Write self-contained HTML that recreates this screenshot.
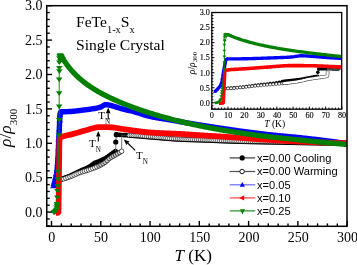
<!DOCTYPE html><html><head><meta charset="utf-8"><style>
*{margin:0;padding:0}
html,body{width:357px;height:265px;overflow:hidden;background:#fff}
svg{display:block;will-change:transform}
text{font-family:"Liberation Serif",serif;fill:#000}
.tk{font-size:14px}
.itk{font-size:8.2px;fill:#000;stroke:#000;stroke-width:0.12px}
.ttl{font-size:15.6px}
.sub{font-size:10.4px}
.axl{font-size:17px}
.axs{font-size:11px}
.iaxl{font-size:9.6px}
.iaxs{font-size:7px}
.tn{font-size:11px}
.tns{font-size:7.2px}
.lg{font-family:"Liberation Sans",sans-serif;font-size:11.1px}
</style></head><body><svg width="357" height="265" viewBox="0 0 357 265">
<defs><clipPath id="cm"><rect x="46.75" y="5.7" width="300.25" height="220.6"/></clipPath><clipPath id="ci"><rect x="211.8" y="12.5" width="129.9" height="96.7"/></clipPath></defs>
<rect width="357" height="265" fill="#fff"/>
<g clip-path="url(#cm)"><polyline points="59.58,179.08 61.65,178.79 63.72,178.31 65.79,177.64 67.86,176.85 69.93,176.02 72.00,175.12 74.07,174.11 76.14,173.04 78.21,171.99 80.28,171.04 82.35,170.20 84.42,169.36 86.49,168.42 88.55,167.38 90.62,166.18 92.69,164.64 94.76,163.22 96.83,162.28 98.90,161.50 100.97,160.61 103.04,159.67 105.11,158.63 107.18,157.37 109.25,155.90 111.32,154.43 113.39,152.92 115.46,151.36" fill="none" stroke="#000" stroke-width="0.8"/>
<circle cx="59.58" cy="179.08" r="2.60" fill="#000"/>
<circle cx="61.65" cy="178.79" r="2.60" fill="#000"/>
<circle cx="63.72" cy="178.31" r="2.60" fill="#000"/>
<circle cx="65.79" cy="177.64" r="2.60" fill="#000"/>
<circle cx="67.86" cy="176.85" r="2.60" fill="#000"/>
<circle cx="69.93" cy="176.02" r="2.60" fill="#000"/>
<circle cx="72.00" cy="175.12" r="2.60" fill="#000"/>
<circle cx="74.07" cy="174.11" r="2.60" fill="#000"/>
<circle cx="76.14" cy="173.04" r="2.60" fill="#000"/>
<circle cx="78.21" cy="171.99" r="2.60" fill="#000"/>
<circle cx="80.28" cy="171.04" r="2.60" fill="#000"/>
<circle cx="82.35" cy="170.20" r="2.60" fill="#000"/>
<circle cx="84.42" cy="169.36" r="2.60" fill="#000"/>
<circle cx="86.49" cy="168.42" r="2.60" fill="#000"/>
<circle cx="88.55" cy="167.38" r="2.60" fill="#000"/>
<circle cx="90.62" cy="166.18" r="2.60" fill="#000"/>
<circle cx="92.69" cy="164.64" r="2.60" fill="#000"/>
<circle cx="94.76" cy="163.22" r="2.60" fill="#000"/>
<circle cx="96.83" cy="162.28" r="2.60" fill="#000"/>
<circle cx="98.90" cy="161.50" r="2.60" fill="#000"/>
<circle cx="100.97" cy="160.61" r="2.60" fill="#000"/>
<circle cx="103.04" cy="159.67" r="2.60" fill="#000"/>
<circle cx="105.11" cy="158.63" r="2.60" fill="#000"/>
<circle cx="107.18" cy="157.37" r="2.60" fill="#000"/>
<circle cx="109.25" cy="155.90" r="2.60" fill="#000"/>
<circle cx="111.32" cy="154.43" r="2.60" fill="#000"/>
<circle cx="113.39" cy="152.92" r="2.60" fill="#000"/>
<circle cx="115.46" cy="151.36" r="2.60" fill="#000"/>
<polyline points="115.66,151.21 115.75,141.99 116.30,134.63" fill="none" stroke="#666" stroke-width="0.9"/>
<circle cx="115.75" cy="141.99" r="2.60" fill="#000"/>
<circle cx="116.30" cy="134.63" r="2.60" fill="#000"/>
<polyline points="116.30,134.63 118.22,134.76 120.14,134.88 122.06,135.01 123.98,135.14 125.91,135.21 127.83,135.25 128.37,135.25" fill="none" stroke="#000" stroke-width="0.8"/>
<circle cx="116.30" cy="134.63" r="2.34" fill="#000"/>
<circle cx="118.22" cy="134.76" r="2.34" fill="#000"/>
<circle cx="120.14" cy="134.88" r="2.34" fill="#000"/>
<circle cx="122.06" cy="135.01" r="2.34" fill="#000"/>
<circle cx="123.98" cy="135.14" r="2.34" fill="#000"/>
<circle cx="125.91" cy="135.21" r="2.34" fill="#000"/>
<circle cx="127.83" cy="135.25" r="2.34" fill="#000"/>
<circle cx="128.37" cy="135.25" r="2.34" fill="#000"/>
<polyline points="59.58,179.35 61.65,179.24 63.72,178.91 65.79,178.28 67.86,177.50 69.93,176.70 72.00,175.91 74.07,175.02 76.14,174.11 78.21,173.22 80.28,172.44 82.35,171.75 84.42,171.13 86.49,170.51 88.55,169.87 90.62,169.17 92.69,168.43 94.76,167.65 96.83,166.82 98.90,165.90 100.97,164.88 103.04,163.68 105.11,162.30 107.18,160.60 109.25,158.65 111.32,157.18 113.39,156.00 115.46,154.91 117.53,153.74 119.60,152.52 121.67,151.28 121.67,135.18 123.59,135.19 125.51,135.21 127.43,135.24 129.35,135.27 131.28,135.34 133.20,135.44 135.12,135.56 137.04,135.70 138.96,135.86 140.88,136.03 142.81,136.21 144.73,136.39 146.65,136.56 148.57,136.72 150.49,136.87 152.42,137.03 154.34,137.18 156.26,137.35 158.18,137.51 160.10,137.68 162.02,137.85 163.95,138.02 165.87,138.19 167.79,138.35 169.71,138.50 171.63,138.65 173.55,138.79 175.48,138.92 177.40,139.04 179.32,139.14 181.24,139.23 183.16,139.31 185.08,139.38 187.01,139.45 188.93,139.51 190.85,139.57 192.77,139.63 194.69,139.69 196.61,139.75 198.54,139.81 200.46,139.88 202.38,139.94 204.30,140.02 206.22,140.09 208.15,140.16 210.07,140.24 211.99,140.31 213.91,140.39 215.83,140.46 217.75,140.54 219.68,140.61 221.60,140.69 223.52,140.76 225.44,140.83 227.36,140.90 229.28,140.97 231.21,141.04 233.13,141.10 235.05,141.16 236.97,141.22 238.89,141.27 240.81,141.33 242.74,141.37 244.66,141.42 246.58,141.46 248.50,141.50 250.42,141.54 252.34,141.58 254.27,141.62 256.19,141.66 258.11,141.70 260.03,141.73 261.95,141.77 263.88,141.80 265.80,141.84 267.72,141.88 269.64,141.92 271.56,141.96 273.48,141.99 275.41,142.03 277.33,142.07 279.25,142.11 281.17,142.15 283.09,142.19 285.01,142.23 286.94,142.27 288.86,142.31 290.78,142.34 292.70,142.38 294.62,142.42 296.54,142.46 298.47,142.49 300.39,142.53 302.31,142.56 304.23,142.60 306.15,142.63 308.07,142.67 310.00,142.70 311.92,142.73 313.84,142.77 315.76,142.80 317.68,142.83 319.61,142.87 321.53,142.90 323.45,142.93 325.37,142.96 327.29,142.99 329.21,143.03 331.14,143.06 333.06,143.09 334.98,143.12 336.90,143.15 338.82,143.18 340.74,143.21 342.67,143.23 344.59,143.26 346.51,143.29 347.15,143.30" fill="none" stroke="#555" stroke-width="0.8"/>
<circle cx="59.58" cy="179.35" r="2.27" fill="#fff" stroke="#000" stroke-width="0.65"/>
<circle cx="61.65" cy="179.24" r="2.27" fill="#fff" stroke="#000" stroke-width="0.65"/>
<circle cx="63.72" cy="178.91" r="2.27" fill="#fff" stroke="#000" stroke-width="0.65"/>
<circle cx="65.79" cy="178.28" r="2.27" fill="#fff" stroke="#000" stroke-width="0.65"/>
<circle cx="67.86" cy="177.50" r="2.27" fill="#fff" stroke="#000" stroke-width="0.65"/>
<circle cx="69.93" cy="176.70" r="2.27" fill="#fff" stroke="#000" stroke-width="0.65"/>
<circle cx="72.00" cy="175.91" r="2.27" fill="#fff" stroke="#000" stroke-width="0.65"/>
<circle cx="74.07" cy="175.02" r="2.27" fill="#fff" stroke="#000" stroke-width="0.65"/>
<circle cx="76.14" cy="174.11" r="2.27" fill="#fff" stroke="#000" stroke-width="0.65"/>
<circle cx="78.21" cy="173.22" r="2.27" fill="#fff" stroke="#000" stroke-width="0.65"/>
<circle cx="80.28" cy="172.44" r="2.27" fill="#fff" stroke="#000" stroke-width="0.65"/>
<circle cx="82.35" cy="171.75" r="2.27" fill="#fff" stroke="#000" stroke-width="0.65"/>
<circle cx="84.42" cy="171.13" r="2.27" fill="#fff" stroke="#000" stroke-width="0.65"/>
<circle cx="86.49" cy="170.51" r="2.27" fill="#fff" stroke="#000" stroke-width="0.65"/>
<circle cx="88.55" cy="169.87" r="2.27" fill="#fff" stroke="#000" stroke-width="0.65"/>
<circle cx="90.62" cy="169.17" r="2.27" fill="#fff" stroke="#000" stroke-width="0.65"/>
<circle cx="92.69" cy="168.43" r="2.27" fill="#fff" stroke="#000" stroke-width="0.65"/>
<circle cx="94.76" cy="167.65" r="2.27" fill="#fff" stroke="#000" stroke-width="0.65"/>
<circle cx="96.83" cy="166.82" r="2.27" fill="#fff" stroke="#000" stroke-width="0.65"/>
<circle cx="98.90" cy="165.90" r="2.27" fill="#ccc" stroke="#000" stroke-width="0.65"/>
<circle cx="100.97" cy="164.88" r="2.27" fill="#ccc" stroke="#000" stroke-width="0.65"/>
<circle cx="103.04" cy="163.68" r="2.27" fill="#ccc" stroke="#000" stroke-width="0.65"/>
<circle cx="105.11" cy="162.30" r="2.27" fill="#ccc" stroke="#000" stroke-width="0.65"/>
<circle cx="107.18" cy="160.60" r="2.27" fill="#ccc" stroke="#000" stroke-width="0.65"/>
<circle cx="109.25" cy="158.65" r="2.27" fill="#ccc" stroke="#000" stroke-width="0.65"/>
<circle cx="111.32" cy="157.18" r="2.27" fill="#ccc" stroke="#000" stroke-width="0.65"/>
<circle cx="113.39" cy="156.00" r="2.27" fill="#ccc" stroke="#000" stroke-width="0.65"/>
<circle cx="115.46" cy="154.91" r="2.27" fill="#ccc" stroke="#000" stroke-width="0.65"/>
<circle cx="117.53" cy="153.74" r="2.27" fill="#ccc" stroke="#000" stroke-width="0.65"/>
<circle cx="119.60" cy="152.52" r="2.27" fill="#ccc" stroke="#000" stroke-width="0.65"/>
<circle cx="121.67" cy="151.28" r="2.27" fill="#fff" stroke="#000" stroke-width="0.65"/>
<circle cx="129.35" cy="135.27" r="2.27" fill="#fff" stroke="#000" stroke-width="0.65"/>
<circle cx="131.28" cy="135.34" r="2.27" fill="#fff" stroke="#000" stroke-width="0.65"/>
<circle cx="133.20" cy="135.44" r="2.27" fill="#fff" stroke="#000" stroke-width="0.65"/>
<circle cx="135.12" cy="135.56" r="2.27" fill="#fff" stroke="#000" stroke-width="0.65"/>
<circle cx="137.04" cy="135.70" r="2.27" fill="#fff" stroke="#000" stroke-width="0.65"/>
<circle cx="138.96" cy="135.86" r="2.27" fill="#fff" stroke="#000" stroke-width="0.65"/>
<circle cx="140.88" cy="136.03" r="2.27" fill="#fff" stroke="#000" stroke-width="0.65"/>
<circle cx="142.81" cy="136.21" r="2.27" fill="#fff" stroke="#000" stroke-width="0.65"/>
<circle cx="144.73" cy="136.39" r="2.27" fill="#fff" stroke="#000" stroke-width="0.65"/>
<circle cx="146.65" cy="136.56" r="2.27" fill="#fff" stroke="#000" stroke-width="0.65"/>
<circle cx="148.57" cy="136.72" r="2.27" fill="#fff" stroke="#000" stroke-width="0.65"/>
<circle cx="150.49" cy="136.87" r="2.27" fill="#fff" stroke="#000" stroke-width="0.65"/>
<circle cx="152.42" cy="137.03" r="2.27" fill="#fff" stroke="#000" stroke-width="0.65"/>
<circle cx="154.34" cy="137.18" r="2.27" fill="#fff" stroke="#000" stroke-width="0.65"/>
<circle cx="156.26" cy="137.35" r="2.27" fill="#fff" stroke="#000" stroke-width="0.65"/>
<circle cx="158.18" cy="137.51" r="2.27" fill="#fff" stroke="#000" stroke-width="0.65"/>
<circle cx="160.10" cy="137.68" r="2.27" fill="#fff" stroke="#000" stroke-width="0.65"/>
<circle cx="162.02" cy="137.85" r="2.27" fill="#fff" stroke="#000" stroke-width="0.65"/>
<circle cx="163.95" cy="138.02" r="2.27" fill="#fff" stroke="#000" stroke-width="0.65"/>
<circle cx="165.87" cy="138.19" r="2.27" fill="#fff" stroke="#000" stroke-width="0.65"/>
<circle cx="167.79" cy="138.35" r="2.27" fill="#fff" stroke="#000" stroke-width="0.65"/>
<circle cx="169.71" cy="138.50" r="2.27" fill="#fff" stroke="#000" stroke-width="0.65"/>
<circle cx="171.63" cy="138.65" r="2.27" fill="#fff" stroke="#000" stroke-width="0.65"/>
<circle cx="173.55" cy="138.79" r="2.27" fill="#fff" stroke="#000" stroke-width="0.65"/>
<circle cx="175.48" cy="138.92" r="2.27" fill="#fff" stroke="#000" stroke-width="0.65"/>
<circle cx="177.40" cy="139.04" r="2.27" fill="#fff" stroke="#000" stroke-width="0.65"/>
<circle cx="179.32" cy="139.14" r="2.27" fill="#fff" stroke="#000" stroke-width="0.65"/>
<circle cx="181.24" cy="139.23" r="2.27" fill="#fff" stroke="#000" stroke-width="0.65"/>
<circle cx="183.16" cy="139.31" r="2.27" fill="#fff" stroke="#000" stroke-width="0.65"/>
<circle cx="185.08" cy="139.38" r="2.27" fill="#fff" stroke="#000" stroke-width="0.65"/>
<circle cx="187.01" cy="139.45" r="2.27" fill="#fff" stroke="#000" stroke-width="0.65"/>
<circle cx="188.93" cy="139.51" r="2.27" fill="#fff" stroke="#000" stroke-width="0.65"/>
<circle cx="190.85" cy="139.57" r="2.27" fill="#fff" stroke="#000" stroke-width="0.65"/>
<circle cx="192.77" cy="139.63" r="2.27" fill="#fff" stroke="#000" stroke-width="0.65"/>
<circle cx="194.69" cy="139.69" r="2.27" fill="#fff" stroke="#000" stroke-width="0.65"/>
<circle cx="196.61" cy="139.75" r="2.27" fill="#fff" stroke="#000" stroke-width="0.65"/>
<circle cx="198.54" cy="139.81" r="2.27" fill="#fff" stroke="#000" stroke-width="0.65"/>
<circle cx="200.46" cy="139.88" r="2.27" fill="#fff" stroke="#000" stroke-width="0.65"/>
<circle cx="202.38" cy="139.94" r="2.27" fill="#fff" stroke="#000" stroke-width="0.65"/>
<circle cx="204.30" cy="140.02" r="2.27" fill="#fff" stroke="#000" stroke-width="0.65"/>
<circle cx="206.22" cy="140.09" r="2.27" fill="#fff" stroke="#000" stroke-width="0.65"/>
<circle cx="208.15" cy="140.16" r="2.27" fill="#fff" stroke="#000" stroke-width="0.65"/>
<circle cx="210.07" cy="140.24" r="2.27" fill="#fff" stroke="#000" stroke-width="0.65"/>
<circle cx="211.99" cy="140.31" r="2.27" fill="#fff" stroke="#000" stroke-width="0.65"/>
<circle cx="213.91" cy="140.39" r="2.27" fill="#fff" stroke="#000" stroke-width="0.65"/>
<circle cx="215.83" cy="140.46" r="2.27" fill="#fff" stroke="#000" stroke-width="0.65"/>
<circle cx="217.75" cy="140.54" r="2.27" fill="#fff" stroke="#000" stroke-width="0.65"/>
<circle cx="219.68" cy="140.61" r="2.27" fill="#fff" stroke="#000" stroke-width="0.65"/>
<circle cx="221.60" cy="140.69" r="2.27" fill="#fff" stroke="#000" stroke-width="0.65"/>
<circle cx="223.52" cy="140.76" r="2.27" fill="#fff" stroke="#000" stroke-width="0.65"/>
<circle cx="225.44" cy="140.83" r="2.27" fill="#fff" stroke="#000" stroke-width="0.65"/>
<circle cx="227.36" cy="140.90" r="2.27" fill="#fff" stroke="#000" stroke-width="0.65"/>
<circle cx="229.28" cy="140.97" r="2.27" fill="#fff" stroke="#000" stroke-width="0.65"/>
<circle cx="231.21" cy="141.04" r="2.27" fill="#fff" stroke="#000" stroke-width="0.65"/>
<circle cx="233.13" cy="141.10" r="2.27" fill="#fff" stroke="#000" stroke-width="0.65"/>
<circle cx="235.05" cy="141.16" r="2.27" fill="#fff" stroke="#000" stroke-width="0.65"/>
<circle cx="236.97" cy="141.22" r="2.27" fill="#fff" stroke="#000" stroke-width="0.65"/>
<circle cx="238.89" cy="141.27" r="2.27" fill="#fff" stroke="#000" stroke-width="0.65"/>
<circle cx="240.81" cy="141.33" r="2.27" fill="#fff" stroke="#000" stroke-width="0.65"/>
<circle cx="242.74" cy="141.37" r="2.27" fill="#fff" stroke="#000" stroke-width="0.65"/>
<circle cx="244.66" cy="141.42" r="2.27" fill="#fff" stroke="#000" stroke-width="0.65"/>
<circle cx="246.58" cy="141.46" r="2.27" fill="#fff" stroke="#000" stroke-width="0.65"/>
<circle cx="248.50" cy="141.50" r="2.27" fill="#fff" stroke="#000" stroke-width="0.65"/>
<circle cx="250.42" cy="141.54" r="2.27" fill="#fff" stroke="#000" stroke-width="0.65"/>
<circle cx="252.34" cy="141.58" r="2.27" fill="#fff" stroke="#000" stroke-width="0.65"/>
<circle cx="254.27" cy="141.62" r="2.27" fill="#fff" stroke="#000" stroke-width="0.65"/>
<circle cx="256.19" cy="141.66" r="2.27" fill="#fff" stroke="#000" stroke-width="0.65"/>
<circle cx="258.11" cy="141.70" r="2.27" fill="#fff" stroke="#000" stroke-width="0.65"/>
<circle cx="260.03" cy="141.73" r="2.27" fill="#fff" stroke="#000" stroke-width="0.65"/>
<circle cx="261.95" cy="141.77" r="2.27" fill="#fff" stroke="#000" stroke-width="0.65"/>
<circle cx="263.88" cy="141.80" r="2.27" fill="#fff" stroke="#000" stroke-width="0.65"/>
<circle cx="265.80" cy="141.84" r="2.27" fill="#fff" stroke="#000" stroke-width="0.65"/>
<circle cx="267.72" cy="141.88" r="2.27" fill="#fff" stroke="#000" stroke-width="0.65"/>
<circle cx="269.64" cy="141.92" r="2.27" fill="#fff" stroke="#000" stroke-width="0.65"/>
<circle cx="271.56" cy="141.96" r="2.27" fill="#fff" stroke="#000" stroke-width="0.65"/>
<circle cx="273.48" cy="141.99" r="2.27" fill="#fff" stroke="#000" stroke-width="0.65"/>
<circle cx="275.41" cy="142.03" r="2.27" fill="#fff" stroke="#000" stroke-width="0.65"/>
<circle cx="277.33" cy="142.07" r="2.27" fill="#fff" stroke="#000" stroke-width="0.65"/>
<circle cx="279.25" cy="142.11" r="2.27" fill="#fff" stroke="#000" stroke-width="0.65"/>
<circle cx="281.17" cy="142.15" r="2.27" fill="#fff" stroke="#000" stroke-width="0.65"/>
<circle cx="283.09" cy="142.19" r="2.27" fill="#fff" stroke="#000" stroke-width="0.65"/>
<circle cx="285.01" cy="142.23" r="2.27" fill="#fff" stroke="#000" stroke-width="0.65"/>
<circle cx="286.94" cy="142.27" r="2.27" fill="#fff" stroke="#000" stroke-width="0.65"/>
<circle cx="288.86" cy="142.31" r="2.27" fill="#fff" stroke="#000" stroke-width="0.65"/>
<circle cx="290.78" cy="142.34" r="2.27" fill="#fff" stroke="#000" stroke-width="0.65"/>
<circle cx="292.70" cy="142.38" r="2.27" fill="#fff" stroke="#000" stroke-width="0.65"/>
<circle cx="294.62" cy="142.42" r="2.27" fill="#fff" stroke="#000" stroke-width="0.65"/>
<circle cx="296.54" cy="142.46" r="2.27" fill="#fff" stroke="#000" stroke-width="0.65"/>
<circle cx="298.47" cy="142.49" r="2.27" fill="#fff" stroke="#000" stroke-width="0.65"/>
<circle cx="300.39" cy="142.53" r="2.27" fill="#fff" stroke="#000" stroke-width="0.65"/>
<circle cx="302.31" cy="142.56" r="2.27" fill="#fff" stroke="#000" stroke-width="0.65"/>
<circle cx="304.23" cy="142.60" r="2.27" fill="#fff" stroke="#000" stroke-width="0.65"/>
<circle cx="306.15" cy="142.63" r="2.27" fill="#fff" stroke="#000" stroke-width="0.65"/>
<circle cx="308.07" cy="142.67" r="2.27" fill="#fff" stroke="#000" stroke-width="0.65"/>
<circle cx="310.00" cy="142.70" r="2.27" fill="#fff" stroke="#000" stroke-width="0.65"/>
<circle cx="311.92" cy="142.73" r="2.27" fill="#fff" stroke="#000" stroke-width="0.65"/>
<circle cx="313.84" cy="142.77" r="2.27" fill="#fff" stroke="#000" stroke-width="0.65"/>
<circle cx="315.76" cy="142.80" r="2.27" fill="#fff" stroke="#000" stroke-width="0.65"/>
<circle cx="317.68" cy="142.83" r="2.27" fill="#fff" stroke="#000" stroke-width="0.65"/>
<circle cx="319.61" cy="142.87" r="2.27" fill="#fff" stroke="#000" stroke-width="0.65"/>
<circle cx="321.53" cy="142.90" r="2.27" fill="#fff" stroke="#000" stroke-width="0.65"/>
<circle cx="323.45" cy="142.93" r="2.27" fill="#fff" stroke="#000" stroke-width="0.65"/>
<circle cx="325.37" cy="142.96" r="2.27" fill="#fff" stroke="#000" stroke-width="0.65"/>
<circle cx="327.29" cy="142.99" r="2.27" fill="#fff" stroke="#000" stroke-width="0.65"/>
<circle cx="329.21" cy="143.03" r="2.27" fill="#fff" stroke="#000" stroke-width="0.65"/>
<circle cx="331.14" cy="143.06" r="2.27" fill="#fff" stroke="#000" stroke-width="0.65"/>
<circle cx="333.06" cy="143.09" r="2.27" fill="#fff" stroke="#000" stroke-width="0.65"/>
<circle cx="334.98" cy="143.12" r="2.27" fill="#fff" stroke="#000" stroke-width="0.65"/>
<circle cx="336.90" cy="143.15" r="2.27" fill="#fff" stroke="#000" stroke-width="0.65"/>
<circle cx="338.82" cy="143.18" r="2.27" fill="#fff" stroke="#000" stroke-width="0.65"/>
<circle cx="340.74" cy="143.21" r="2.27" fill="#fff" stroke="#000" stroke-width="0.65"/>
<circle cx="342.67" cy="143.23" r="2.27" fill="#fff" stroke="#000" stroke-width="0.65"/>
<circle cx="344.59" cy="143.26" r="2.27" fill="#fff" stroke="#000" stroke-width="0.65"/>
<circle cx="346.51" cy="143.29" r="2.27" fill="#fff" stroke="#000" stroke-width="0.65"/>
<circle cx="347.15" cy="143.30" r="2.27" fill="#fff" stroke="#000" stroke-width="0.65"/>
<polyline points="129.35,137.42 131.28,137.49 133.20,137.59 135.12,137.71 137.04,137.85 138.96,138.01 140.88,138.18 142.81,138.36 144.73,138.54 146.65,138.71 148.57,138.87 150.49,139.02 152.42,139.18 154.34,139.33 156.26,139.50 158.18,139.66 160.10,139.83 162.02,140.00 163.95,140.17 165.87,140.34 167.79,140.50 169.71,140.65 171.63,140.80 173.55,140.94 175.48,141.07 177.40,141.19 179.32,141.29 181.24,141.38 183.16,141.46 185.08,141.53 187.01,141.60 188.93,141.66 190.85,141.72 192.77,141.78 194.69,141.84 196.61,141.90 198.54,141.96 200.46,142.03 202.38,142.09 204.30,142.17 206.22,142.24 208.15,142.31 210.07,142.39 211.99,142.46 213.91,142.54 215.83,142.61 217.75,142.69 219.68,142.76 221.60,142.84 223.52,142.91 225.44,142.98 227.36,143.05 229.28,143.12 231.21,143.19 233.13,143.25 235.05,143.31 236.97,143.37 238.89,143.42 240.81,143.48 242.74,143.52 244.66,143.57 246.58,143.61 248.50,143.65 250.42,143.69 252.34,143.73 254.27,143.77 256.19,143.81 258.11,143.85 260.03,143.88 261.95,143.92 263.88,143.95 265.80,143.99 267.72,144.03 269.64,144.07 271.56,144.11 273.48,144.14 275.41,144.18 277.33,144.22 279.25,144.26 281.17,144.30 283.09,144.34 285.01,144.38 286.94,144.42 288.86,144.46 290.78,144.49 292.70,144.53 294.62,144.57 296.54,144.61 298.47,144.64 300.39,144.68 302.31,144.71 304.23,144.75 306.15,144.78 308.07,144.82 310.00,144.85 311.92,144.88 313.84,144.92 315.76,144.95 317.68,144.98 319.61,145.02 321.53,145.05 323.45,145.08 325.37,145.11 327.29,145.14 329.21,145.18 331.14,145.21 333.06,145.24 334.98,145.27 336.90,145.30 338.82,145.33 340.74,145.36 342.67,145.38 344.59,145.41 346.51,145.44 347.15,145.45" fill="none" stroke="#000" stroke-width="1.0"/>
<polyline points="53.37,186.64 53.47,186.30 53.57,185.96 53.67,185.61 53.77,185.27 53.87,184.92 53.96,184.58 54.06,184.24 54.16,183.90 54.26,183.57 54.36,183.23 54.46,182.90 54.56,182.55 54.65,182.19 54.75,181.83 54.85,181.45 54.95,181.06 55.05,180.66 55.15,180.26 55.24,179.85 55.34,179.43 55.44,179.01 55.54,178.58 55.64,178.14 55.74,177.70 55.84,177.26 55.93,176.83 56.03,176.40 56.13,175.95 56.23,175.49 56.33,175.00 56.43,174.48 56.53,173.92 56.62,173.30 56.72,172.63 56.82,171.91 56.92,171.14 57.02,170.31 57.12,169.44 57.22,168.52 57.31,167.51 57.41,166.42 57.51,165.24 57.61,163.94 57.71,162.46 57.81,160.76 57.91,158.94 58.00,157.06 58.10,155.18 58.20,153.22 58.30,151.13 58.40,148.80 58.50,145.89 58.60,142.63 58.69,139.86 58.79,137.81 58.89,136.06 58.99,134.48 59.09,132.96 59.19,131.35 59.29,129.54 59.38,127.42 59.48,125.09 59.58,122.75 59.68,120.60 59.78,118.48 59.88,116.49 59.98,115.09 60.07,114.23 60.17,113.53 60.27,113.00 60.37,112.68 60.47,112.49 60.57,112.31 60.67,112.16 60.76,112.03 60.86,111.93 60.96,111.85 61.06,111.81 61.16,111.79 62.14,111.79 63.13,111.78 64.11,111.77 65.10,111.74 66.09,111.70 67.07,111.66 68.06,111.62 69.04,111.57 70.03,111.51 71.01,111.46 72.00,111.39 72.98,111.31 73.97,111.22 74.95,111.11 75.94,110.99 76.93,110.87 77.91,110.74 78.90,110.62 79.88,110.49 80.87,110.38 81.85,110.26 82.84,110.14 83.82,110.01 84.81,109.89 85.80,109.76 86.78,109.63 87.77,109.50 88.75,109.36 89.74,109.22 90.72,109.07 91.71,108.92 92.69,108.77 93.68,108.62 94.66,108.47 95.65,108.31 96.64,108.13 97.62,107.94 98.61,107.73 99.59,107.49 100.58,107.18 101.56,106.68 102.55,106.07 103.53,105.46 104.52,104.95 105.51,104.64 106.49,104.62 107.48,104.73 108.46,104.92 109.45,105.17 110.43,105.45 111.42,105.72 112.40,105.97 113.39,106.23 114.37,106.52 115.36,106.82 116.35,107.12 117.33,107.43 118.32,107.73 119.30,108.02 120.29,108.29 121.27,108.56 122.26,108.81 123.24,109.06 124.23,109.31 125.22,109.55 126.20,109.79 127.19,110.03 128.17,110.27 129.16,110.51 130.14,110.75 131.13,111.00 132.11,111.24 133.10,111.50 134.08,111.76 135.07,112.02 136.06,112.30 137.04,112.59 138.03,112.90 139.01,113.21 140.00,113.53 140.98,113.85 141.97,114.17 142.95,114.49 143.94,114.80 144.93,115.11 145.91,115.41 146.90,115.69 147.88,115.96 148.87,116.21 149.85,116.45 150.84,116.66 151.82,116.87 152.81,117.06 153.79,117.25 154.78,117.44 155.77,117.61 156.75,117.78 157.74,117.95 158.72,118.11 159.71,118.27 160.69,118.43 161.68,118.58 162.66,118.74 163.65,118.89 164.64,119.05 165.62,119.20 166.61,119.36 167.59,119.51 168.58,119.68 169.56,119.84 170.55,120.01 171.53,120.18 172.52,120.35 173.50,120.52 174.49,120.69 175.48,120.86 176.46,121.04 177.45,121.21 178.43,121.38 179.42,121.55 180.40,121.73 181.39,121.90 182.37,122.07 183.36,122.24 184.35,122.42 185.33,122.59 186.32,122.76 187.30,122.93 188.29,123.09 189.27,123.26 190.26,123.43 191.24,123.59 192.23,123.76 193.21,123.92 194.20,124.08 195.19,124.24 196.17,124.40 197.16,124.56 198.14,124.71 199.13,124.87 200.11,125.02 201.10,125.17 202.08,125.33 203.07,125.48 204.06,125.64 205.04,125.79 206.03,125.95 207.01,126.10 208.00,126.25 208.98,126.41 209.97,126.56 210.95,126.71 211.94,126.86 212.92,127.02 213.91,127.17 214.90,127.32 215.88,127.47 216.87,127.62 217.85,127.77 218.84,127.92 219.82,128.07 220.81,128.22 221.79,128.37 222.78,128.52 223.77,128.66 224.75,128.81 225.74,128.96 226.72,129.10 227.71,129.25 228.69,129.40 229.68,129.54 230.66,129.68 231.65,129.83 232.63,129.97 233.62,130.11 234.61,130.25 235.59,130.39 236.58,130.53 237.56,130.67 238.55,130.81 239.53,130.95 240.52,131.09 241.50,131.22 242.49,131.36 243.48,131.50 244.46,131.63 245.45,131.76 246.43,131.90 247.42,132.03 248.40,132.16 249.39,132.29 250.37,132.42 251.36,132.55 252.34,132.67 253.33,132.80 254.32,132.93 255.30,133.05 256.29,133.17 257.27,133.30 258.26,133.42 259.24,133.54 260.23,133.66 261.21,133.78 262.20,133.90 263.19,134.01 264.17,134.13 265.16,134.24 266.14,134.35 267.13,134.46 268.11,134.57 269.10,134.68 270.08,134.78 271.07,134.89 272.05,134.99 273.04,135.09 274.03,135.19 275.01,135.29 276.00,135.38 276.98,135.48 277.97,135.58 278.95,135.67 279.94,135.76 280.92,135.86 281.91,135.95 282.90,136.04 283.88,136.13 284.87,136.22 285.85,136.32 286.84,136.41 287.82,136.50 288.81,136.59 289.79,136.68 290.78,136.77 291.76,136.87 292.75,136.96 293.74,137.05 294.72,137.15 295.71,137.25 296.69,137.34 297.68,137.44 298.66,137.54 299.65,137.64 300.63,137.74 301.62,137.85 302.61,137.95 303.59,138.06 304.58,138.16 305.56,138.27 306.55,138.39 307.53,138.50 308.52,138.61 309.50,138.72 310.49,138.84 311.47,138.95 312.46,139.07 313.45,139.18 314.43,139.30 315.42,139.42 316.40,139.54 317.39,139.66 318.37,139.78 319.36,139.90 320.34,140.02 321.33,140.14 322.32,140.26 323.30,140.39 324.29,140.51 325.27,140.64 326.26,140.76 327.24,140.89 328.23,141.01 329.21,141.14 330.20,141.27 331.18,141.40 332.17,141.53 333.16,141.66 334.14,141.79 335.13,141.92 336.11,142.05 337.10,142.19 338.08,142.32 339.07,142.45 340.05,142.59 341.04,142.72 342.03,142.86 343.01,143.00 344.00,143.13 344.98,143.27 345.97,143.41 346.95,143.55 347.15,143.58" fill="none" stroke="#0000ff" stroke-width="5.40" stroke-linejoin="round" stroke-linecap="butt"/>
<polygon points="50.07,188.37 56.67,188.37 53.37,183.77" fill="#0000ff"/>
<polygon points="50.66,186.30 57.26,186.30 53.96,181.71" fill="#0000ff"/>
<polygon points="51.45,183.55 58.05,183.55 54.75,178.96" fill="#0000ff"/>
<polygon points="52.44,179.42 59.04,179.42 55.74,174.83" fill="#0000ff"/>
<polygon points="53.23,175.64 59.83,175.64 56.53,171.04" fill="#0000ff"/>
<polygon points="53.82,171.17 60.42,171.17 57.12,166.57" fill="#0000ff"/>
<polygon points="54.31,165.66 60.91,165.66 57.61,161.07" fill="#0000ff"/>
<polygon points="54.70,158.78 61.30,158.78 58.00,154.19" fill="#0000ff"/>
<polygon points="55.10,150.53 61.70,150.53 58.40,145.93" fill="#0000ff"/>
<polygon points="55.39,141.58 61.99,141.58 58.69,136.99" fill="#0000ff"/>
<polygon points="55.99,131.26 62.59,131.26 59.29,126.67" fill="#0000ff"/>
<polygon points="56.38,122.32 62.98,122.32 59.68,117.72" fill="#0000ff"/>
<polygon points="56.68,116.81 63.28,116.81 59.98,112.22" fill="#0000ff"/>
<polygon points="57.07,114.41 63.67,114.41 60.37,109.81" fill="#0000ff"/>
<polygon points="57.86,113.51 64.46,113.51 61.16,108.92" fill="#0000ff"/>
<polyline points="55.93,212.79 56.92,212.79 57.91,212.79 58.50,212.10 58.50,212.10 58.54,208.66 58.59,205.22 58.63,201.78 58.67,198.34 58.72,194.90 58.76,191.46 58.81,188.02 58.85,184.58 58.90,181.14 58.94,177.70 58.98,174.26 59.03,170.82 59.07,167.38 59.12,163.94 59.16,160.50 59.21,157.06 59.25,153.62 59.30,150.18 59.34,146.74 59.38,143.30 59.58,138.48 60.57,137.38 61.55,136.88 62.54,136.53 63.52,136.22 64.51,135.94 65.49,135.69 66.48,135.46 67.47,135.25 68.45,135.04 69.44,134.82 70.42,134.60 71.41,134.37 72.39,134.11 73.38,133.85 74.36,133.57 75.35,133.30 76.33,133.01 77.32,132.73 78.31,132.44 79.29,132.15 80.28,131.87 81.26,131.59 82.25,131.31 83.23,131.04 84.22,130.78 85.20,130.52 86.19,130.25 87.18,129.97 88.16,129.67 89.15,129.36 90.13,129.05 91.12,128.75 92.10,128.45 93.09,128.17 94.07,127.91 95.06,127.67 96.04,127.47 97.03,127.30 98.02,127.17 99.00,127.09 99.99,127.06 100.97,127.07 101.96,127.07 102.94,127.09 103.93,127.10 104.91,127.12 105.90,127.14 106.89,127.17 107.87,127.20 108.86,127.23 109.84,127.26 110.83,127.31 111.81,127.37 112.80,127.46 113.78,127.57 114.77,127.70 115.75,127.84 116.74,127.99 117.73,128.15 118.71,128.32 119.70,128.49 120.68,128.66 121.67,128.82 122.65,128.99 123.64,129.14 124.62,129.28 125.61,129.41 126.60,129.54 127.58,129.68 128.57,129.81 129.55,129.95 130.54,130.09 131.52,130.23 132.51,130.37 133.49,130.51 134.48,130.65 135.46,130.79 136.45,130.92 137.44,131.06 138.42,131.19 139.41,131.32 140.39,131.45 141.38,131.57 142.36,131.69 143.35,131.80 144.33,131.91 145.32,132.02 146.31,132.12 147.29,132.21 148.28,132.30 149.26,132.38 150.25,132.45 151.23,132.52 152.22,132.59 153.20,132.65 154.19,132.71 155.17,132.77 156.16,132.82 157.15,132.88 158.13,132.93 159.12,132.98 160.10,133.02 161.09,133.07 162.07,133.12 163.06,133.16 164.04,133.20 165.03,133.25 166.02,133.29 167.00,133.33 167.99,133.37 168.97,133.41 169.96,133.46 170.94,133.50 171.93,133.54 172.91,133.59 173.90,133.63 174.88,133.68 175.87,133.72 176.86,133.77 177.84,133.82 178.83,133.88 179.81,133.93 180.80,133.99 181.78,134.05 182.77,134.11 183.75,134.17 184.74,134.23 185.73,134.30 186.71,134.36 187.70,134.42 188.68,134.49 189.67,134.56 190.65,134.62 191.64,134.69 192.62,134.75 193.61,134.82 194.59,134.88 195.58,134.94 196.57,135.01 197.55,135.07 198.54,135.13 199.52,135.20 200.51,135.26 201.49,135.32 202.48,135.38 203.46,135.44 204.45,135.51 205.44,135.57 206.42,135.63 207.41,135.69 208.39,135.75 209.38,135.81 210.36,135.88 211.35,135.94 212.33,136.00 213.32,136.06 214.30,136.12 215.29,136.18 216.28,136.24 217.26,136.31 218.25,136.37 219.23,136.43 220.22,136.49 221.20,136.56 222.19,136.62 223.17,136.68 224.16,136.74 225.15,136.81 226.13,136.87 227.12,136.93 228.10,137.00 229.09,137.06 230.07,137.13 231.06,137.19 232.04,137.26 233.03,137.32 234.01,137.39 235.00,137.45 235.99,137.52 236.97,137.59 237.96,137.65 238.94,137.72 239.93,137.79 240.91,137.86 241.90,137.93 242.88,138.00 243.87,138.07 244.86,138.15 245.84,138.22 246.83,138.30 247.81,138.38 248.80,138.45 249.78,138.53 250.77,138.61 251.75,138.69 252.74,138.76 253.72,138.84 254.71,138.92 255.70,138.99 256.68,139.07 257.67,139.14 258.65,139.22 259.64,139.29 260.62,139.36 261.61,139.43 262.59,139.50 263.58,139.56 264.57,139.63 265.55,139.69 266.54,139.75 267.52,139.81 268.51,139.87 269.49,139.93 270.48,139.99 271.46,140.05 272.45,140.11 273.43,140.17 274.42,140.23 275.41,140.29 276.39,140.34 277.38,140.40 278.36,140.46 279.35,140.51 280.33,140.57 281.32,140.62 282.30,140.68 283.29,140.73 284.28,140.78 285.26,140.84 286.25,140.89 287.23,140.94 288.22,140.99 289.20,141.04 290.19,141.09 291.17,141.14 292.16,141.19 293.14,141.24 294.13,141.29 295.12,141.34 296.10,141.38 297.09,141.43 298.07,141.48 299.06,141.52 300.04,141.57 301.03,141.61 302.01,141.66 303.00,141.70 303.99,141.74 304.97,141.79 305.96,141.83 306.94,141.87 307.93,141.91 308.91,141.95 309.90,141.99 310.88,142.04 311.87,142.08 312.85,142.12 313.84,142.16 314.83,142.20 315.81,142.24 316.80,142.28 317.78,142.31 318.77,142.35 319.75,142.39 320.74,142.43 321.72,142.47 322.71,142.50 323.70,142.54 324.68,142.58 325.67,142.61 326.65,142.65 327.64,142.68 328.62,142.72 329.61,142.75 330.59,142.79 331.58,142.82 332.56,142.86 333.55,142.89 334.54,142.92 335.52,142.95 336.51,142.99 337.49,143.02 338.48,143.05 339.46,143.08 340.45,143.11 341.43,143.14 342.42,143.17 343.41,143.20 344.39,143.22 345.38,143.25 346.36,143.28 347.15,143.30" fill="none" stroke="#ff0000" stroke-width="5.75" stroke-linejoin="round" stroke-linecap="butt"/>
<polygon points="50.57,210.38 57.17,210.38 53.87,214.97" fill="#008000"/>
<polygon points="51.16,210.38 57.76,210.38 54.46,214.97" fill="#008000"/>
<polygon points="51.75,209.69 58.35,209.69 55.05,214.28" fill="#008000"/>
<polygon points="52.34,209.00 58.94,209.00 55.64,213.59" fill="#008000"/>
<polygon points="52.83,207.63 59.43,207.63 56.13,212.22" fill="#008000"/>
<polygon points="53.23,205.56 59.83,205.56 56.53,210.16" fill="#008000"/>
<polygon points="53.52,203.50 60.12,203.50 56.82,208.09" fill="#008000"/>
<polyline points="57.02,203.84 57.31,197.17 57.51,190.70 57.71,185.61 57.91,178.94 58.10,171.51 59.09,134.98 59.19,119.63 59.19,106.29 59.19,93.01 59.19,79.32 59.29,67.62" fill="none" stroke="#008000" stroke-width="0.9"/>
<polygon points="53.72,202.12 60.32,202.12 57.02,206.72" fill="#008000"/>
<polygon points="54.01,195.45 60.61,195.45 57.31,200.04" fill="#008000"/>
<polygon points="54.21,188.98 60.81,188.98 57.51,193.57" fill="#008000"/>
<polygon points="54.41,183.89 61.01,183.89 57.71,188.48" fill="#008000"/>
<polygon points="54.61,177.22 61.21,177.22 57.91,181.81" fill="#008000"/>
<polygon points="54.80,169.79 61.40,169.79 58.10,174.38" fill="#008000"/>
<polygon points="55.79,133.25 62.39,133.25 59.09,137.85" fill="#008000"/>
<polygon points="55.89,117.91 62.49,117.91 59.19,122.50" fill="#008000"/>
<polygon points="55.89,104.56 62.49,104.56 59.19,109.16" fill="#008000"/>
<polygon points="55.89,91.28 62.49,91.28 59.19,95.88" fill="#008000"/>
<polygon points="55.89,77.59 62.49,77.59 59.19,82.19" fill="#008000"/>
<polygon points="55.99,65.90 62.59,65.90 59.29,70.49" fill="#008000"/>
<polygon points="55.99,60.39 62.59,60.39 59.29,64.99" fill="#008000"/>
<polygon points="56.08,56.27 62.68,56.27 59.38,60.86" fill="#008000"/>
<polygon points="56.28,54.20 62.88,54.20 59.58,58.80" fill="#008000"/>
<polygon points="56.68,53.51 63.28,53.51 59.98,58.11" fill="#008000"/>
<polygon points="57.27,53.51 63.87,53.51 60.57,58.11" fill="#008000"/>
<polygon points="57.86,54.20 64.46,54.20 61.16,58.80" fill="#008000"/>
<polygon points="58.55,55.58 65.15,55.58 61.85,60.17" fill="#008000"/>
<polygon points="59.34,56.95 65.94,56.95 62.64,61.55" fill="#008000"/>
<polygon points="56.08,69.34 62.68,69.34 59.38,73.93" fill="#008000"/>
<polygon points="57.07,59.02 63.67,59.02 60.37,63.61" fill="#008000"/>
<polyline points="60.96,55.67 61.95,57.32 62.93,58.91 63.92,60.43 64.90,61.89 65.89,63.30 66.87,64.66 67.86,65.96 68.84,67.22 69.83,68.43 70.82,69.60 71.80,70.73 72.79,71.82 73.77,72.87 74.76,73.90 75.74,74.89 76.73,75.85 77.71,76.78 78.70,77.68 79.69,78.56 80.67,79.41 81.66,80.24 82.64,81.05 83.63,81.84 84.61,82.60 85.60,83.35 86.58,84.08 87.57,84.79 88.55,85.49 89.54,86.17 90.53,86.83 91.51,87.49 92.50,88.12 93.48,88.75 94.47,89.36 95.45,89.96 96.44,90.55 97.42,91.13 98.41,91.70 99.40,92.26 100.38,92.81 101.37,93.35 102.35,93.88 103.34,94.40 104.32,94.92 105.31,95.42 106.29,95.92 107.28,96.41 108.26,96.90 109.25,97.38 110.24,97.85 111.22,98.31 112.21,98.77 113.19,99.23 114.18,99.68 115.16,100.12 116.15,100.55 117.13,100.99 118.12,101.41 119.11,101.83 120.09,102.25 121.08,102.66 122.06,103.07 123.05,103.47 124.03,103.87 125.02,104.27 126.00,104.66 126.99,105.04 127.97,105.42 128.96,105.80 129.95,106.18 130.93,106.55 131.92,106.92 132.90,107.28 133.89,107.64 134.87,108.00 135.86,108.35 136.84,108.70 137.83,109.05 138.82,109.39 139.80,109.73 140.79,110.07 141.77,110.40 142.76,110.73 143.74,111.06 144.73,111.39 145.71,111.71 146.70,112.03 147.68,112.34 148.67,112.66 149.66,112.97 150.64,113.28 151.63,113.58 152.61,113.89 153.60,114.19 154.58,114.49 155.57,114.78 156.55,115.08 157.54,115.37 158.53,115.65 159.51,115.94 160.50,116.22 161.48,116.50 162.47,116.78 163.45,117.06 164.44,117.33 165.42,117.61 166.41,117.88 167.39,118.14 168.38,118.41 169.37,118.67 170.35,118.93 171.34,119.19 172.32,119.45 173.31,119.70 174.29,119.95 175.28,120.20 176.26,120.45 177.25,120.70 178.24,120.94 179.22,121.19 180.21,121.43 181.19,121.66 182.18,121.90 183.16,122.14 184.15,122.37 185.13,122.60 186.12,122.83 187.10,123.06 188.09,123.28 189.08,123.50 190.06,123.73 191.05,123.95 192.03,124.16 193.02,124.38 194.00,124.59 194.99,124.81 195.97,125.02 196.96,125.23 197.95,125.44 198.93,125.64 199.92,125.85 200.90,126.05 201.89,126.25 202.87,126.45 203.86,126.65 204.84,126.84 205.83,127.04 206.81,127.23 207.80,127.42 208.79,127.61 209.77,127.80 210.76,127.99 211.74,128.17 212.73,128.36 213.71,128.54 214.70,128.72 215.68,128.90 216.67,129.08 217.66,129.25 218.64,129.43 219.63,129.60 220.61,129.78 221.60,129.95 222.58,130.12 223.57,130.29 224.55,130.45 225.54,130.62 226.52,130.78 227.51,130.94 228.50,131.11 229.48,131.27 230.47,131.43 231.45,131.58 232.44,131.74 233.42,131.89 234.41,132.05 235.39,132.20 236.38,132.35 237.37,132.50 238.35,132.65 239.34,132.80 240.32,132.95 241.31,133.09 242.29,133.23 243.28,133.38 244.26,133.52 245.25,133.66 246.23,133.80 247.22,133.94 248.21,134.07 249.19,134.21 250.18,134.35 251.16,134.48 252.15,134.61 253.13,134.74 254.12,134.87 255.10,135.00 256.09,135.13 257.08,135.26 258.06,135.39 259.05,135.51 260.03,135.64 261.02,135.76 262.00,135.88 262.99,136.00 263.97,136.12 264.96,136.24 265.94,136.36 266.93,136.48 267.92,136.59 268.90,136.71 269.89,136.82 270.87,136.94 271.86,137.05 272.84,137.16 273.83,137.27 274.81,137.38 275.80,137.49 276.79,137.60 277.77,137.70 278.76,137.81 279.74,137.91 280.73,138.02 281.71,138.12 282.70,138.22 283.68,138.33 284.67,138.43 285.65,138.54 286.64,138.64 287.63,138.74 288.61,138.85 289.60,138.95 290.58,139.06 291.57,139.16 292.55,139.27 293.54,139.37 294.52,139.48 295.51,139.58 296.50,139.68 297.48,139.78 298.47,139.89 299.45,139.99 300.44,140.09 301.42,140.19 302.41,140.29 303.39,140.39 304.38,140.49 305.36,140.59 306.35,140.69 307.34,140.79 308.32,140.89 309.31,140.99 310.29,141.09 311.28,141.18 312.26,141.28 313.25,141.38 314.23,141.47 315.22,141.57 316.21,141.66 317.19,141.76 318.18,141.85 319.16,141.95 320.15,142.04 321.13,142.14 322.12,142.23 323.10,142.32 324.09,142.41 325.07,142.51 326.06,142.60 327.05,142.69 328.03,142.78 329.02,142.87 330.00,142.96 330.99,143.05 331.97,143.14 332.96,143.23 333.94,143.32 334.93,143.41 335.92,143.49 336.90,143.58 337.89,143.67 338.87,143.75 339.86,143.84 340.84,143.93 341.83,144.01 342.81,144.10 343.80,144.18 344.78,144.27 345.77,144.35 346.76,144.44" fill="none" stroke="#008000" stroke-width="5.30" stroke-linejoin="round" stroke-linecap="butt"/></g>
<line x1="46.75" y1="225.86" x2="49.75" y2="225.86" stroke="#000" stroke-width="1.4"/>
<line x1="46.75" y1="218.98" x2="49.75" y2="218.98" stroke="#000" stroke-width="1.4"/>
<line x1="46.75" y1="212.10" x2="51.95" y2="212.10" stroke="#000" stroke-width="1.4"/>
<line x1="46.75" y1="205.22" x2="49.75" y2="205.22" stroke="#000" stroke-width="1.4"/>
<line x1="46.75" y1="198.34" x2="49.75" y2="198.34" stroke="#000" stroke-width="1.4"/>
<line x1="46.75" y1="191.46" x2="49.75" y2="191.46" stroke="#000" stroke-width="1.4"/>
<line x1="46.75" y1="184.58" x2="49.75" y2="184.58" stroke="#000" stroke-width="1.4"/>
<line x1="46.75" y1="177.70" x2="51.95" y2="177.70" stroke="#000" stroke-width="1.4"/>
<line x1="46.75" y1="170.82" x2="49.75" y2="170.82" stroke="#000" stroke-width="1.4"/>
<line x1="46.75" y1="163.94" x2="49.75" y2="163.94" stroke="#000" stroke-width="1.4"/>
<line x1="46.75" y1="157.06" x2="49.75" y2="157.06" stroke="#000" stroke-width="1.4"/>
<line x1="46.75" y1="150.18" x2="49.75" y2="150.18" stroke="#000" stroke-width="1.4"/>
<line x1="46.75" y1="143.30" x2="51.95" y2="143.30" stroke="#000" stroke-width="1.4"/>
<line x1="46.75" y1="136.42" x2="49.75" y2="136.42" stroke="#000" stroke-width="1.4"/>
<line x1="46.75" y1="129.54" x2="49.75" y2="129.54" stroke="#000" stroke-width="1.4"/>
<line x1="46.75" y1="122.66" x2="49.75" y2="122.66" stroke="#000" stroke-width="1.4"/>
<line x1="46.75" y1="115.78" x2="49.75" y2="115.78" stroke="#000" stroke-width="1.4"/>
<line x1="46.75" y1="108.90" x2="51.95" y2="108.90" stroke="#000" stroke-width="1.4"/>
<line x1="46.75" y1="102.02" x2="49.75" y2="102.02" stroke="#000" stroke-width="1.4"/>
<line x1="46.75" y1="95.14" x2="49.75" y2="95.14" stroke="#000" stroke-width="1.4"/>
<line x1="46.75" y1="88.26" x2="49.75" y2="88.26" stroke="#000" stroke-width="1.4"/>
<line x1="46.75" y1="81.38" x2="49.75" y2="81.38" stroke="#000" stroke-width="1.4"/>
<line x1="46.75" y1="74.50" x2="51.95" y2="74.50" stroke="#000" stroke-width="1.4"/>
<line x1="46.75" y1="67.62" x2="49.75" y2="67.62" stroke="#000" stroke-width="1.4"/>
<line x1="46.75" y1="60.74" x2="49.75" y2="60.74" stroke="#000" stroke-width="1.4"/>
<line x1="46.75" y1="53.86" x2="49.75" y2="53.86" stroke="#000" stroke-width="1.4"/>
<line x1="46.75" y1="46.98" x2="49.75" y2="46.98" stroke="#000" stroke-width="1.4"/>
<line x1="46.75" y1="40.10" x2="51.95" y2="40.10" stroke="#000" stroke-width="1.4"/>
<line x1="46.75" y1="33.22" x2="49.75" y2="33.22" stroke="#000" stroke-width="1.4"/>
<line x1="46.75" y1="26.34" x2="49.75" y2="26.34" stroke="#000" stroke-width="1.4"/>
<line x1="46.75" y1="19.46" x2="49.75" y2="19.46" stroke="#000" stroke-width="1.4"/>
<line x1="46.75" y1="12.58" x2="49.75" y2="12.58" stroke="#000" stroke-width="1.4"/>
<line x1="46.75" y1="5.70" x2="51.95" y2="5.70" stroke="#000" stroke-width="1.4"/>
<line x1="51.50" y1="226.3" x2="51.50" y2="220.90" stroke="#000" stroke-width="1.4"/>
<line x1="61.36" y1="226.3" x2="61.36" y2="223.40" stroke="#000" stroke-width="1.4"/>
<line x1="71.21" y1="226.3" x2="71.21" y2="223.40" stroke="#000" stroke-width="1.4"/>
<line x1="81.06" y1="226.3" x2="81.06" y2="223.40" stroke="#000" stroke-width="1.4"/>
<line x1="90.92" y1="226.3" x2="90.92" y2="223.40" stroke="#000" stroke-width="1.4"/>
<line x1="100.78" y1="226.3" x2="100.78" y2="220.90" stroke="#000" stroke-width="1.4"/>
<line x1="110.63" y1="226.3" x2="110.63" y2="223.40" stroke="#000" stroke-width="1.4"/>
<line x1="120.48" y1="226.3" x2="120.48" y2="223.40" stroke="#000" stroke-width="1.4"/>
<line x1="130.34" y1="226.3" x2="130.34" y2="223.40" stroke="#000" stroke-width="1.4"/>
<line x1="140.19" y1="226.3" x2="140.19" y2="223.40" stroke="#000" stroke-width="1.4"/>
<line x1="150.05" y1="226.3" x2="150.05" y2="220.90" stroke="#000" stroke-width="1.4"/>
<line x1="159.91" y1="226.3" x2="159.91" y2="223.40" stroke="#000" stroke-width="1.4"/>
<line x1="169.76" y1="226.3" x2="169.76" y2="223.40" stroke="#000" stroke-width="1.4"/>
<line x1="179.62" y1="226.3" x2="179.62" y2="223.40" stroke="#000" stroke-width="1.4"/>
<line x1="189.47" y1="226.3" x2="189.47" y2="223.40" stroke="#000" stroke-width="1.4"/>
<line x1="199.33" y1="226.3" x2="199.33" y2="220.90" stroke="#000" stroke-width="1.4"/>
<line x1="209.18" y1="226.3" x2="209.18" y2="223.40" stroke="#000" stroke-width="1.4"/>
<line x1="219.03" y1="226.3" x2="219.03" y2="223.40" stroke="#000" stroke-width="1.4"/>
<line x1="228.89" y1="226.3" x2="228.89" y2="223.40" stroke="#000" stroke-width="1.4"/>
<line x1="238.75" y1="226.3" x2="238.75" y2="223.40" stroke="#000" stroke-width="1.4"/>
<line x1="248.60" y1="226.3" x2="248.60" y2="220.90" stroke="#000" stroke-width="1.4"/>
<line x1="258.46" y1="226.3" x2="258.46" y2="223.40" stroke="#000" stroke-width="1.4"/>
<line x1="268.31" y1="226.3" x2="268.31" y2="223.40" stroke="#000" stroke-width="1.4"/>
<line x1="278.17" y1="226.3" x2="278.17" y2="223.40" stroke="#000" stroke-width="1.4"/>
<line x1="288.02" y1="226.3" x2="288.02" y2="223.40" stroke="#000" stroke-width="1.4"/>
<line x1="297.88" y1="226.3" x2="297.88" y2="220.90" stroke="#000" stroke-width="1.4"/>
<line x1="307.73" y1="226.3" x2="307.73" y2="223.40" stroke="#000" stroke-width="1.4"/>
<line x1="317.59" y1="226.3" x2="317.59" y2="223.40" stroke="#000" stroke-width="1.4"/>
<line x1="327.44" y1="226.3" x2="327.44" y2="223.40" stroke="#000" stroke-width="1.4"/>
<line x1="337.30" y1="226.3" x2="337.30" y2="223.40" stroke="#000" stroke-width="1.4"/>
<line x1="347.15" y1="226.3" x2="347.15" y2="220.90" stroke="#000" stroke-width="1.4"/>
<rect x="46.75" y="5.7" width="300.25" height="220.60000000000002" fill="none" stroke="#000" stroke-width="1.5"/>
<text x="42.6" y="216.85" text-anchor="end" class="tk">0.0</text>
<text x="42.6" y="182.45" text-anchor="end" class="tk">0.5</text>
<text x="42.6" y="148.05" text-anchor="end" class="tk">1.0</text>
<text x="42.6" y="113.65" text-anchor="end" class="tk">1.5</text>
<text x="42.6" y="79.25" text-anchor="end" class="tk">2.0</text>
<text x="42.6" y="44.85" text-anchor="end" class="tk">2.5</text>
<text x="42.6" y="10.45" text-anchor="end" class="tk">3.0</text>
<text x="51.80" y="242" text-anchor="middle" class="tk">0</text>
<text x="101.08" y="242" text-anchor="middle" class="tk">50</text>
<text x="150.35" y="242" text-anchor="middle" class="tk">100</text>
<text x="199.63" y="242" text-anchor="middle" class="tk">150</text>
<text x="248.90" y="242" text-anchor="middle" class="tk">200</text>
<text x="298.18" y="242" text-anchor="middle" class="tk">250</text>
<text x="347.45" y="242" text-anchor="middle" class="tk">300</text>
<text x="76" y="26.6" class="ttl">FeTe<tspan class="sub" dy="6">1-x</tspan><tspan dy="-6">S</tspan><tspan class="sub" dy="6">x</tspan></text>
<text x="76" y="49.7" class="ttl">Single Crystal</text>
<text x="174.5" y="261" class="axl"><tspan font-style="italic">T</tspan> (K)</text>
<text transform="translate(10.5,147) rotate(-90)" class="axl" style="font-size:17.5px"><tspan font-style="italic">ρ</tspan>/<tspan font-style="italic">ρ</tspan><tspan class="axs" dy="6.6">300</tspan></text>
<line x1="108.2" y1="119.5" x2="108.20" y2="113.20" stroke="#000" stroke-width="1.1"/><polygon points="108.2,107.6 110.50,113.20 105.90,113.20" fill="#000"/>
<line x1="98.3" y1="141.5" x2="98.30" y2="136.60" stroke="#000" stroke-width="1.1"/><polygon points="98.3,131.0 100.60,136.60 96.00,136.60" fill="#000"/>
<line x1="135.2" y1="150.3" x2="127.85" y2="143.27" stroke="#000" stroke-width="1.1"/><polygon points="123.8,139.4 129.44,141.61 126.26,144.93" fill="#000"/>
<text x="98.2" y="119.2" class="tn">T<tspan class="tns" dy="4.6">N</tspan></text>
<text x="88.9" y="147.1" class="tn">T<tspan class="tns" dy="4.6">N</tspan></text>
<text x="136.1" y="159.2" class="tn">T<tspan class="tns" dy="4.6">N</tspan></text>
<line x1="229.7" y1="157.9" x2="255.2" y2="157.9" stroke="#444" stroke-width="1.25"/>
<text x="257.0" y="161.8" class="lg">x=0.00 Cooling</text>
<line x1="229.7" y1="171.5" x2="255.2" y2="171.5" stroke="#555" stroke-width="1.25"/>
<text x="257.0" y="175.4" class="lg">x=0.00 Warming</text>
<line x1="229.7" y1="184.8" x2="255.2" y2="184.8" stroke="#6f6fff" stroke-width="1.25"/>
<text x="257.0" y="188.7" class="lg">x=0.05</text>
<line x1="229.7" y1="197.9" x2="255.2" y2="197.9" stroke="#ff4a4a" stroke-width="1.25"/>
<text x="257.0" y="201.8" class="lg">x=0.10</text>
<line x1="229.7" y1="210.9" x2="255.2" y2="210.9" stroke="#2f8f2f" stroke-width="1.25"/>
<text x="257.0" y="214.8" class="lg">x=0.25</text>
<circle cx="242.2" cy="157.9" r="2.6" fill="#000"/>
<circle cx="242.1" cy="171.5" r="2.25" fill="#fff" stroke="#000" stroke-width="0.9"/>
<polygon points="242.30,182.10 239.70,186.80 244.90,186.80" fill="#0000ff"/>
<polygon points="239.20,197.90 244.20,195.20 244.20,200.60" fill="#ff0000"/>
<polygon points="240.00,209.30 245.00,209.30 242.50,214.50" fill="#008000"/>
<rect x="211.8" y="12.5" width="129.89999999999998" height="96.7" fill="#fff" stroke="none"/>
<g clip-path="url(#ci)"><polyline points="283.31,81.39 284.12,81.28 284.94,81.18 285.75,81.09 286.56,81.00 287.38,80.92 288.19,80.84 289.01,80.76 289.82,80.68 290.63,80.59 291.45,80.50 292.26,80.41 293.07,80.31 293.89,80.22 294.70,80.12 295.52,80.02 296.33,79.92 297.14,79.82 297.96,79.72 298.77,79.61 299.58,79.50 300.40,79.38 301.21,79.26 302.03,79.13 302.84,79.00 303.65,78.86 304.47,78.71 305.28,78.56 306.09,78.40 306.91,78.25 307.72,78.09 308.54,77.94 309.35,77.78 310.16,77.63 310.98,77.47 311.79,77.32 312.61,77.16 313.42,77.00 314.23,76.84 315.05,76.68 315.86,76.52 316.67,76.36 317.49,76.19" fill="none" stroke="#000" stroke-width="3.50" stroke-linecap="round" stroke-linejoin="round"/>
<polyline points="225.05,88.35 228.06,88.24 231.07,88.07 234.08,87.83 237.09,87.55 240.10,87.23 243.11,86.91 246.12,86.55 249.13,86.16 252.14,85.74 255.15,85.34 258.17,84.96 261.18,84.62 264.19,84.31 267.20,83.97 270.21,83.59 273.22,83.19 276.23,82.72 279.24,82.14 282.25,81.56" fill="none" stroke="#000" stroke-width="0.8"/>
<circle cx="225.05" cy="88.35" r="1.75" fill="#000"/>
<circle cx="228.06" cy="88.24" r="1.75" fill="#000"/>
<circle cx="231.07" cy="88.07" r="1.75" fill="#000"/>
<circle cx="234.08" cy="87.83" r="1.75" fill="#000"/>
<circle cx="237.09" cy="87.55" r="1.75" fill="#000"/>
<circle cx="240.10" cy="87.23" r="1.75" fill="#000"/>
<circle cx="243.11" cy="86.91" r="1.75" fill="#000"/>
<circle cx="246.12" cy="86.55" r="1.75" fill="#000"/>
<circle cx="249.13" cy="86.16" r="1.75" fill="#000"/>
<circle cx="252.14" cy="85.74" r="1.75" fill="#000"/>
<circle cx="255.15" cy="85.34" r="1.75" fill="#000"/>
<circle cx="258.17" cy="84.96" r="1.75" fill="#000"/>
<circle cx="261.18" cy="84.62" r="1.75" fill="#000"/>
<circle cx="264.19" cy="84.31" r="1.75" fill="#000"/>
<circle cx="267.20" cy="83.97" r="1.75" fill="#000"/>
<circle cx="270.21" cy="83.59" r="1.75" fill="#000"/>
<circle cx="273.22" cy="83.19" r="1.75" fill="#000"/>
<circle cx="276.23" cy="82.72" r="1.75" fill="#000"/>
<circle cx="279.24" cy="82.14" r="1.75" fill="#000"/>
<circle cx="282.25" cy="81.56" r="1.75" fill="#000"/>
<polyline points="317.65,76.16 317.81,72.13 318.71,68.91" fill="none" stroke="#666" stroke-width="0.9"/>
<circle cx="317.81" cy="72.13" r="1.75" fill="#000"/>
<circle cx="318.71" cy="68.91" r="1.75" fill="#000"/>
<polyline points="318.71,68.91 319.52,68.92 320.34,68.94 321.15,68.95 321.96,68.97 322.78,68.98 323.59,68.99 324.40,69.01 325.22,69.02 326.03,69.03 326.85,69.05 327.66,69.06 328.47,69.08 329.29,69.09 330.10,69.11 330.91,69.12 331.73,69.13 332.54,69.14 333.36,69.15 334.17,69.16 334.98,69.16 335.80,69.17 336.61,69.17 337.42,69.18 338.24,69.18 338.64,69.18" fill="none" stroke="#000" stroke-width="2.98" stroke-linecap="round"/>
<circle cx="225.05" cy="88.47" r="1.48" fill="#fff" stroke="#000" stroke-width="0.55"/>
<circle cx="228.06" cy="88.43" r="1.48" fill="#fff" stroke="#000" stroke-width="0.55"/>
<circle cx="231.07" cy="88.33" r="1.48" fill="#fff" stroke="#000" stroke-width="0.55"/>
<circle cx="234.08" cy="88.11" r="1.48" fill="#fff" stroke="#000" stroke-width="0.55"/>
<circle cx="237.09" cy="87.83" r="1.48" fill="#fff" stroke="#000" stroke-width="0.55"/>
<circle cx="240.10" cy="87.52" r="1.48" fill="#fff" stroke="#000" stroke-width="0.55"/>
<circle cx="243.11" cy="87.22" r="1.48" fill="#fff" stroke="#000" stroke-width="0.55"/>
<circle cx="246.12" cy="86.90" r="1.48" fill="#fff" stroke="#000" stroke-width="0.55"/>
<circle cx="249.13" cy="86.56" r="1.48" fill="#fff" stroke="#000" stroke-width="0.55"/>
<circle cx="252.14" cy="86.21" r="1.48" fill="#fff" stroke="#000" stroke-width="0.55"/>
<circle cx="255.15" cy="85.86" r="1.48" fill="#fff" stroke="#000" stroke-width="0.55"/>
<circle cx="258.17" cy="85.55" r="1.48" fill="#fff" stroke="#000" stroke-width="0.55"/>
<circle cx="261.18" cy="85.27" r="1.48" fill="#fff" stroke="#000" stroke-width="0.55"/>
<circle cx="264.19" cy="85.02" r="1.48" fill="#fff" stroke="#000" stroke-width="0.55"/>
<circle cx="267.20" cy="84.78" r="1.48" fill="#fff" stroke="#000" stroke-width="0.55"/>
<circle cx="270.21" cy="84.55" r="1.48" fill="#fff" stroke="#000" stroke-width="0.55"/>
<circle cx="273.22" cy="84.30" r="1.48" fill="#fff" stroke="#000" stroke-width="0.55"/>
<circle cx="276.23" cy="84.02" r="1.48" fill="#fff" stroke="#000" stroke-width="0.55"/>
<circle cx="279.24" cy="83.74" r="1.48" fill="#fff" stroke="#000" stroke-width="0.55"/>
<circle cx="282.25" cy="83.44" r="1.48" fill="#fff" stroke="#000" stroke-width="0.55"/>
<polyline points="284.12,83.25 284.94,83.17 285.75,83.08 286.56,82.99 287.38,82.90 288.19,82.80 289.01,82.71 289.82,82.61 290.63,82.51 291.45,82.40 292.26,82.30 293.07,82.19 293.89,82.07 294.70,81.95 295.52,81.82 296.33,81.70 297.14,81.56 297.96,81.42 298.77,81.28 299.58,81.13 300.40,80.98 301.21,80.83 302.03,80.66 302.84,80.47 303.65,80.27 304.47,80.06 305.28,79.85 306.09,79.65 306.91,79.45 307.72,79.27 308.54,79.11 309.35,78.96 310.16,78.83 310.98,78.69 311.79,78.57 312.61,78.44 313.42,78.33 314.23,78.21 315.05,78.10 315.86,77.98 316.67,77.87 317.49,77.75 318.30,77.64 319.12,77.52 319.93,77.40 320.74,77.27 321.56,77.14 322.37,77.02 323.18,76.89 324.00,76.76 324.81,76.63 325.62,76.50 326.44,76.37 327.25,76.24 327.58,74.20 327.58,71.19" fill="none" stroke="#222" stroke-width="3.50" stroke-linecap="round" stroke-linejoin="round"/>
<polyline points="284.12,83.25 284.94,83.17 285.75,83.08 286.56,82.99 287.38,82.90 288.19,82.80 289.01,82.71 289.82,82.61 290.63,82.51 291.45,82.40 292.26,82.30 293.07,82.19 293.89,82.07 294.70,81.95 295.52,81.82 296.33,81.70 297.14,81.56 297.96,81.42 298.77,81.28 299.58,81.13 300.40,80.98 301.21,80.83 302.03,80.66 302.84,80.47 303.65,80.27 304.47,80.06 305.28,79.85 306.09,79.65 306.91,79.45 307.72,79.27 308.54,79.11 309.35,78.96 310.16,78.83 310.98,78.69 311.79,78.57 312.61,78.44 313.42,78.33 314.23,78.21 315.05,78.10 315.86,77.98 316.67,77.87 317.49,77.75 318.30,77.64 319.12,77.52 319.93,77.40 320.74,77.27 321.56,77.14 322.37,77.02 323.18,76.89 324.00,76.76 324.81,76.63 325.62,76.50 326.44,76.37 327.25,76.24 327.58,74.20 327.58,71.19" fill="none" stroke="#fff" stroke-width="2.40" stroke-linecap="round" stroke-linejoin="round"/>
<polyline points="327.58,71.19 327.58,69.15 331.48,69.15 335.39,69.17 339.30,69.18 343.20,69.21 347.11,69.27 351.01,69.34 354.92,69.42 358.83,69.51 362.73,69.60 366.64,69.70 370.54,69.79 374.45,69.87 378.36,69.95 382.26,70.04 386.17,70.13 390.07,70.22 393.98,70.31 397.89,70.40 401.79,70.49 405.70,70.58 409.60,70.66 413.51,70.73 417.42,70.80 421.32,70.86 425.23,70.91 429.13,70.95 433.04,70.99 436.95,71.03 440.85,71.06 444.76,71.09 448.66,71.12 452.57,71.16 456.48,71.19 460.38,71.23 464.29,71.27 468.19,71.30 472.10,71.34 476.01,71.39 479.91,71.43 483.82,71.47 487.72,71.51 491.63,71.55 495.54,71.59 499.44,71.63 503.35,71.66 507.25,71.70 511.16,71.73 515.07,71.77 518.97,71.80 522.88,71.83 526.78,71.85 530.69,71.88 534.60,71.90 538.50,71.92 542.41,71.94 546.31,71.96 550.22,71.98 554.13,72.00 558.03,72.02 561.94,72.04 565.84,72.06 569.75,72.08 573.66,72.10 577.56,72.13 581.47,72.15 585.37,72.17 589.28,72.19 593.19,72.21 597.09,72.23 601.00,72.25 604.90,72.27 608.81,72.29 612.72,72.31 616.62,72.33 620.53,72.35 624.43,72.37 628.34,72.39 632.25,72.41 636.15,72.43 640.06,72.44 643.96,72.46 647.87,72.48 651.78,72.50 655.68,72.52 659.59,72.53 663.49,72.55 667.40,72.57 671.31,72.58 675.21,72.60 679.12,72.62 683.02,72.63 686.93,72.65 690.84,72.66 694.74,72.68 698.65,72.69 699.95,72.70" fill="none" stroke="#666" stroke-width="1.3" stroke-linejoin="round"/>
<polyline points="214.79,91.66 214.95,91.51 215.12,91.36 215.28,91.21 215.44,91.06 215.61,90.91 215.77,90.76 215.93,90.61 216.09,90.46 216.26,90.32 216.42,90.17 216.58,90.02 216.75,89.87 216.91,89.72 217.07,89.56 217.23,89.39 217.40,89.22 217.56,89.05 217.72,88.87 217.88,88.69 218.05,88.51 218.21,88.32 218.37,88.13 218.54,87.94 218.70,87.75 218.86,87.56 219.02,87.37 219.19,87.18 219.35,86.98 219.51,86.78 219.67,86.57 219.84,86.34 220.00,86.09 220.16,85.83 220.33,85.53 220.49,85.22 220.65,84.88 220.81,84.52 220.98,84.14 221.14,83.73 221.30,83.29 221.47,82.82 221.63,82.30 221.79,81.73 221.95,81.08 222.12,80.34 222.28,79.54 222.44,78.72 222.60,77.90 222.77,77.04 222.93,76.12 223.09,75.11 223.26,73.83 223.42,72.41 223.58,71.19 223.74,70.30 223.91,69.53 224.07,68.84 224.23,68.18 224.39,67.47 224.56,66.68 224.72,65.75 224.88,64.73 225.05,63.71 225.21,62.77 225.37,61.84 225.53,60.97 225.70,60.36 225.86,59.98 226.02,59.67 226.18,59.44 226.35,59.31 226.51,59.22 226.67,59.14 226.84,59.08 227.00,59.02 227.16,58.98 227.32,58.94 227.49,58.92 227.65,58.91 229.28,58.91 230.90,58.91 232.53,58.90 234.16,58.89 235.79,58.88 237.41,58.86 239.04,58.84 240.67,58.82 242.30,58.79 243.92,58.77 245.55,58.74 247.18,58.71 248.81,58.66 250.43,58.62 252.06,58.56 253.69,58.51 255.32,58.46 256.94,58.40 258.57,58.35 260.20,58.30 261.83,58.24 263.45,58.19 265.08,58.14 266.71,58.08 268.34,58.03 269.96,57.97 271.59,57.91 273.22,57.85 274.85,57.79 276.47,57.72 278.10,57.66 279.73,57.59 281.36,57.53 282.98,57.46 284.61,57.39 286.24,57.32 287.87,57.23 289.49,57.14 291.12,57.03 292.75,56.90 294.38,56.68 296.00,56.41 297.63,56.14 299.26,55.92 300.89,55.79 302.51,55.78 304.14,55.82 305.77,55.91 307.40,56.02 309.02,56.14 310.65,56.26 312.28,56.37 313.91,56.48 315.53,56.61 317.16,56.74 318.79,56.87 320.42,57.01 322.04,57.14 323.67,57.26 325.30,57.38 326.93,57.50 328.55,57.61 330.18,57.72 331.81,57.83 333.44,57.94 335.06,58.04 336.69,58.15 338.32,58.25 339.95,58.35 341.57,58.46 343.20,58.57 344.83,58.68 346.46,58.79 348.08,58.90 349.71,59.02 351.34,59.14 352.97,59.27 354.59,59.40 356.22,59.54 357.85,59.67 359.48,59.82 361.10,59.96 362.73,60.10 364.36,60.23 365.99,60.37 367.61,60.50 369.24,60.62 370.87,60.74 372.50,60.85 374.12,60.95 375.75,61.05 377.38,61.13 379.01,61.22 380.63,61.30 382.26,61.38 383.89,61.46 385.52,61.54 387.14,61.61 388.77,61.68 390.40,61.75 392.03,61.82 393.65,61.89 395.28,61.95 396.91,62.02 398.54,62.09 400.16,62.16 401.79,62.22 403.42,62.29 405.05,62.36 406.67,62.44 408.30,62.51 409.93,62.58 411.56,62.66 413.18,62.73 414.81,62.81 416.44,62.88 418.07,62.96 419.69,63.04 421.32,63.11 422.95,63.19 424.58,63.26 426.20,63.34 427.83,63.41 429.46,63.49 431.09,63.56 432.71,63.64 434.34,63.71 435.97,63.79 437.60,63.86 439.22,63.93 440.85,64.01 442.48,64.08 444.11,64.15 445.73,64.22 447.36,64.29 448.99,64.36 450.62,64.43 452.24,64.50 453.87,64.57 455.50,64.63 457.13,64.70 458.75,64.77 460.38,64.84 462.01,64.91 463.64,64.97 465.26,65.04 466.89,65.11 468.52,65.17 470.15,65.24 471.77,65.31 473.40,65.38 475.03,65.44 476.66,65.51 478.28,65.58 479.91,65.64 481.54,65.71 483.17,65.77 484.79,65.84 486.42,65.91 488.05,65.97 489.68,66.04 491.30,66.10 492.93,66.17 494.56,66.23 496.19,66.30 497.81,66.36 499.44,66.43 501.07,66.49 502.70,66.55 504.32,66.62 505.95,66.68 507.58,66.74 509.21,66.81 510.83,66.87 512.46,66.93 514.09,66.99 515.72,67.05 517.34,67.12 518.97,67.18 520.60,67.24 522.23,67.30 523.85,67.36 525.48,67.42 527.11,67.48 528.74,67.54 530.36,67.59 531.99,67.65 533.62,67.71 535.25,67.77 536.87,67.83 538.50,67.88 540.13,67.94 541.76,68.00 543.38,68.05 545.01,68.11 546.64,68.16 548.27,68.22 549.89,68.27 551.52,68.32 553.15,68.38 554.78,68.43 556.40,68.48 558.03,68.53 559.66,68.59 561.29,68.64 562.91,68.69 564.54,68.74 566.17,68.79 567.80,68.83 569.42,68.88 571.05,68.93 572.68,68.97 574.31,69.02 575.93,69.06 577.56,69.11 579.19,69.15 580.82,69.19 582.44,69.24 584.07,69.28 585.70,69.32 587.33,69.36 588.95,69.40 590.58,69.44 592.21,69.48 593.84,69.52 595.46,69.56 597.09,69.60 598.72,69.64 600.35,69.68 601.97,69.72 603.60,69.76 605.23,69.80 606.86,69.85 608.48,69.89 610.11,69.93 611.74,69.97 613.37,70.01 614.99,70.05 616.62,70.09 618.25,70.14 619.88,70.18 621.50,70.22 623.13,70.27 624.76,70.31 626.39,70.36 628.01,70.41 629.64,70.45 631.27,70.50 632.90,70.55 634.52,70.60 636.15,70.65 637.78,70.70 639.41,70.75 641.03,70.80 642.66,70.85 644.29,70.90 645.92,70.95 647.54,71.00 649.17,71.05 650.80,71.11 652.43,71.16 654.05,71.21 655.68,71.26 657.31,71.32 658.94,71.37 660.56,71.43 662.19,71.48 663.82,71.53 665.45,71.59 667.07,71.64 668.70,71.70 670.33,71.76 671.96,71.81 673.58,71.87 675.21,71.92 676.84,71.98 678.47,72.04 680.09,72.10 681.72,72.15 683.35,72.21 684.98,72.27 686.60,72.33 688.23,72.39 689.86,72.45 691.49,72.51 693.11,72.57 694.74,72.63 696.37,72.69 698.00,72.75 699.62,72.81 699.95,72.82" fill="none" stroke="#0000ff" stroke-width="3.35" stroke-linejoin="round" stroke-linecap="butt"/>
<polygon points="212.89,92.65 216.69,92.65 214.79,90.01" fill="#0000ff"/>
<polygon points="213.87,91.75 217.67,91.75 215.77,89.11" fill="#0000ff"/>
<polygon points="215.17,90.55 218.97,90.55 217.07,87.90" fill="#0000ff"/>
<polygon points="216.80,88.74 220.60,88.74 218.70,86.10" fill="#0000ff"/>
<polygon points="218.10,87.09 221.90,87.09 220.00,84.44" fill="#0000ff"/>
<polygon points="219.08,85.13 222.88,85.13 220.98,82.48" fill="#0000ff"/>
<polygon points="219.89,82.72 223.69,82.72 221.79,80.08" fill="#0000ff"/>
<polygon points="220.54,79.71 224.34,79.71 222.44,77.07" fill="#0000ff"/>
<polygon points="221.19,76.10 224.99,76.10 223.09,73.45" fill="#0000ff"/>
<polygon points="221.68,72.19 225.48,72.19 223.58,69.54" fill="#0000ff"/>
<polygon points="222.66,67.67 226.46,67.67 224.56,65.03" fill="#0000ff"/>
<polygon points="223.31,63.76 227.11,63.76 225.21,61.11" fill="#0000ff"/>
<polygon points="223.80,61.35 227.60,61.35 225.70,58.71" fill="#0000ff"/>
<polygon points="224.45,60.30 228.25,60.30 226.35,57.65" fill="#0000ff"/>
<polygon points="225.75,59.91 229.55,59.91 227.65,57.26" fill="#0000ff"/>
<polyline points="219.02,103.10 220.65,103.10 222.28,103.10 223.26,102.80 223.26,102.80 223.33,101.30 223.40,99.79 223.47,98.28 223.55,96.78 223.62,95.27 223.69,93.77 223.77,92.27 223.84,90.76 223.91,89.25 223.99,87.75 224.06,86.24 224.13,84.74 224.21,83.23 224.28,81.73 224.35,80.22 224.43,78.72 224.50,77.21 224.57,75.71 224.65,74.20 224.72,72.70 225.05,70.59 226.67,70.11 228.30,69.89 229.93,69.74 231.56,69.60 233.18,69.48 234.81,69.37 236.44,69.27 238.07,69.18 239.69,69.08 241.32,68.99 242.95,68.90 244.58,68.79 246.20,68.68 247.83,68.56 249.46,68.44 251.09,68.32 252.71,68.20 254.34,68.07 255.97,67.95 257.60,67.82 259.22,67.70 260.85,67.58 262.48,67.45 264.11,67.34 265.73,67.22 267.36,67.11 268.99,66.99 270.62,66.87 272.24,66.74 273.87,66.60 275.50,66.47 277.13,66.33 278.75,66.20 280.38,66.08 282.01,65.97 283.64,65.86 285.26,65.77 286.89,65.70 288.52,65.64 290.15,65.61 291.77,65.60 293.40,65.60 295.03,65.60 296.66,65.61 298.28,65.61 299.91,65.62 301.54,65.63 303.17,65.64 304.79,65.66 306.42,65.67 308.05,65.68 309.68,65.70 311.30,65.73 312.93,65.77 314.56,65.82 316.19,65.87 317.81,65.94 319.44,66.00 321.07,66.07 322.70,66.15 324.32,66.22 325.95,66.29 327.58,66.37 329.21,66.44 330.83,66.50 332.46,66.57 334.09,66.62 335.72,66.68 337.34,66.74 338.97,66.80 340.60,66.86 342.23,66.92 343.85,66.98 345.48,67.04 347.11,67.10 348.74,67.17 350.36,67.23 351.99,67.29 353.62,67.34 355.25,67.40 356.87,67.46 358.50,67.51 360.13,67.57 361.76,67.62 363.38,67.67 365.01,67.72 366.64,67.76 368.27,67.81 369.89,67.85 371.52,67.89 373.15,67.92 374.78,67.95 376.40,67.98 378.03,68.01 379.66,68.04 381.29,68.07 382.91,68.09 384.54,68.12 386.17,68.14 387.80,68.16 389.42,68.18 391.05,68.20 392.68,68.22 394.31,68.24 395.93,68.26 397.56,68.28 399.19,68.30 400.82,68.32 402.44,68.34 404.07,68.36 405.70,68.37 407.33,68.39 408.95,68.41 410.58,68.43 412.21,68.45 413.84,68.47 415.46,68.49 417.09,68.51 418.72,68.53 420.35,68.55 421.97,68.58 423.60,68.60 425.23,68.63 426.86,68.65 428.48,68.68 430.11,68.71 431.74,68.73 433.37,68.76 434.99,68.79 436.62,68.82 438.25,68.85 439.88,68.87 441.50,68.90 443.13,68.93 444.76,68.96 446.39,68.99 448.01,69.02 449.64,69.04 451.27,69.07 452.90,69.10 454.52,69.13 456.15,69.15 457.78,69.18 459.41,69.21 461.03,69.24 462.66,69.26 464.29,69.29 465.92,69.32 467.54,69.34 469.17,69.37 470.80,69.40 472.43,69.42 474.05,69.45 475.68,69.48 477.31,69.51 478.94,69.53 480.56,69.56 482.19,69.59 483.82,69.61 485.45,69.64 487.07,69.67 488.70,69.69 490.33,69.72 491.96,69.75 493.58,69.78 495.21,69.80 496.84,69.83 498.47,69.86 500.09,69.89 501.72,69.91 503.35,69.94 504.98,69.97 506.60,70.00 508.23,70.03 509.86,70.06 511.49,70.08 513.11,70.11 514.74,70.14 516.37,70.17 518.00,70.20 519.62,70.23 521.25,70.26 522.88,70.29 524.51,70.32 526.13,70.35 527.76,70.38 529.39,70.41 531.02,70.45 532.64,70.48 534.27,70.51 535.90,70.55 537.53,70.58 539.15,70.61 540.78,70.65 542.41,70.68 544.04,70.72 545.66,70.75 547.29,70.78 548.92,70.82 550.55,70.85 552.17,70.88 553.80,70.91 555.43,70.95 557.06,70.98 558.68,71.01 560.31,71.04 561.94,71.07 563.57,71.09 565.19,71.12 566.82,71.15 568.45,71.17 570.08,71.20 571.70,71.23 573.33,71.25 574.96,71.28 576.59,71.31 578.21,71.33 579.84,71.36 581.47,71.38 583.10,71.41 584.72,71.43 586.35,71.46 587.98,71.48 589.61,71.50 591.23,71.53 592.86,71.55 594.49,71.58 596.12,71.60 597.74,71.62 599.37,71.64 601.00,71.67 602.63,71.69 604.25,71.71 605.88,71.73 607.51,71.76 609.14,71.78 610.76,71.80 612.39,71.82 614.02,71.84 615.65,71.86 617.27,71.88 618.90,71.90 620.53,71.92 622.16,71.94 623.78,71.96 625.41,71.98 627.04,72.00 628.67,72.02 630.29,72.04 631.92,72.06 633.55,72.07 635.18,72.09 636.80,72.11 638.43,72.13 640.06,72.15 641.69,72.16 643.31,72.18 644.94,72.20 646.57,72.22 648.20,72.23 649.82,72.25 651.45,72.27 653.08,72.29 654.71,72.30 656.33,72.32 657.96,72.34 659.59,72.35 661.22,72.37 662.84,72.38 664.47,72.40 666.10,72.42 667.73,72.43 669.35,72.45 670.98,72.46 672.61,72.48 674.24,72.49 675.86,72.51 677.49,72.52 679.12,72.53 680.75,72.55 682.37,72.56 684.00,72.58 685.63,72.59 687.26,72.60 688.88,72.62 690.51,72.63 692.14,72.64 693.77,72.65 695.39,72.67 697.02,72.68 698.65,72.69 699.95,72.70" fill="none" stroke="#ff0000" stroke-width="3.56" stroke-linejoin="round" stroke-linecap="butt"/>
<polygon points="213.71,101.81 217.51,101.81 215.61,104.45" fill="#008000"/>
<polygon points="214.68,101.81 218.48,101.81 216.58,104.45" fill="#008000"/>
<polygon points="215.66,101.51 219.46,101.51 217.56,104.15" fill="#008000"/>
<polygon points="216.64,101.21 220.44,101.21 218.54,103.85" fill="#008000"/>
<polygon points="217.45,100.60 221.25,100.60 219.35,103.25" fill="#008000"/>
<polygon points="218.10,99.70 221.90,99.70 220.00,102.35" fill="#008000"/>
<polygon points="218.59,98.80 222.39,98.80 220.49,101.44" fill="#008000"/>
<polyline points="220.81,99.19 221.30,96.27 221.63,93.44 221.95,91.21 222.28,88.29 222.60,85.04 224.23,69.06 224.39,62.35 224.39,56.51 224.39,50.70 224.39,44.71 224.56,39.59" fill="none" stroke="#008000" stroke-width="0.9"/>
<polygon points="218.91,98.20 222.71,98.20 220.81,100.84" fill="#008000"/>
<polygon points="219.40,95.28 223.20,95.28 221.30,97.92" fill="#008000"/>
<polygon points="219.73,92.45 223.53,92.45 221.63,95.09" fill="#008000"/>
<polygon points="220.05,90.22 223.85,90.22 221.95,92.86" fill="#008000"/>
<polygon points="220.38,87.30 224.18,87.30 222.28,89.94" fill="#008000"/>
<polygon points="220.70,84.05 224.50,84.05 222.60,86.69" fill="#008000"/>
<polygon points="222.33,68.07 226.13,68.07 224.23,70.71" fill="#008000"/>
<polygon points="222.49,61.35 226.29,61.35 224.39,64.00" fill="#008000"/>
<polygon points="222.49,55.51 226.29,55.51 224.39,58.16" fill="#008000"/>
<polygon points="222.49,49.71 226.29,49.71 224.39,52.35" fill="#008000"/>
<polygon points="222.49,43.72 226.29,43.72 224.39,46.36" fill="#008000"/>
<polygon points="222.66,38.60 226.46,38.60 224.56,41.24" fill="#008000"/>
<polygon points="222.66,36.19 226.46,36.19 224.56,38.83" fill="#008000"/>
<polygon points="222.82,34.38 226.62,34.38 224.72,37.03" fill="#008000"/>
<polygon points="223.15,33.48 226.95,33.48 225.05,36.13" fill="#008000"/>
<polygon points="223.80,33.18 227.60,33.18 225.70,35.82" fill="#008000"/>
<polygon points="224.77,33.18 228.57,33.18 226.67,35.82" fill="#008000"/>
<polygon points="225.75,33.48 229.55,33.48 227.65,36.13" fill="#008000"/>
<polygon points="226.89,34.08 230.69,34.08 228.79,36.73" fill="#008000"/>
<polygon points="228.19,34.69 231.99,34.69 230.09,37.33" fill="#008000"/>
<polygon points="222.82,40.10 226.62,40.10 224.72,42.75" fill="#008000"/>
<polygon points="224.45,35.59 228.25,35.59 226.35,38.23" fill="#008000"/>
<polyline points="227.32,34.36 228.95,35.08 230.58,35.78 232.21,36.44 233.83,37.09 235.46,37.70 237.09,38.29 238.72,38.86 240.34,39.41 241.97,39.94 243.60,40.46 245.23,40.95 246.85,41.43 248.48,41.89 250.11,42.34 251.74,42.77 253.36,43.19 254.99,43.60 256.62,43.99 258.25,44.38 259.87,44.75 261.50,45.11 263.13,45.46 264.76,45.81 266.38,46.14 268.01,46.47 269.64,46.79 271.27,47.10 272.89,47.41 274.52,47.70 276.15,48.00 277.78,48.28 279.40,48.56 281.03,48.83 282.66,49.10 284.29,49.36 285.91,49.62 287.54,49.88 289.17,50.12 290.80,50.37 292.42,50.61 294.05,50.85 295.68,51.08 297.31,51.31 298.93,51.53 300.56,51.75 302.19,51.97 303.82,52.19 305.44,52.40 307.07,52.61 308.70,52.82 310.33,53.02 311.95,53.22 313.58,53.42 315.21,53.61 316.84,53.81 318.46,54.00 320.09,54.19 321.72,54.37 323.35,54.56 324.97,54.74 326.60,54.92 328.23,55.10 329.86,55.28 331.48,55.45 333.11,55.62 334.74,55.79 336.37,55.96 337.99,56.13 339.62,56.29 341.25,56.46 342.88,56.62 344.50,56.78 346.13,56.94 347.76,57.10 349.39,57.25 351.01,57.41 352.64,57.56 354.27,57.71 355.90,57.86 357.52,58.01 359.15,58.16 360.78,58.31 362.41,58.45 364.03,58.60 365.66,58.74 367.29,58.88 368.92,59.02 370.54,59.16 372.17,59.29 373.80,59.43 375.43,59.57 377.05,59.70 378.68,59.83 380.31,59.96 381.94,60.09 383.56,60.22 385.19,60.35 386.82,60.48 388.45,60.61 390.07,60.73 391.70,60.85 393.33,60.98 394.96,61.10 396.58,61.22 398.21,61.34 399.84,61.46 401.47,61.58 403.09,61.69 404.72,61.81 406.35,61.92 407.98,62.04 409.60,62.15 411.23,62.26 412.86,62.38 414.49,62.49 416.11,62.60 417.74,62.70 419.37,62.81 421.00,62.92 422.62,63.03 424.25,63.13 425.88,63.23 427.51,63.34 429.13,63.44 430.76,63.54 432.39,63.64 434.02,63.74 435.64,63.84 437.27,63.94 438.90,64.04 440.53,64.14 442.15,64.23 443.78,64.33 445.41,64.42 447.04,64.52 448.66,64.61 450.29,64.70 451.92,64.79 453.55,64.88 455.17,64.97 456.80,65.06 458.43,65.15 460.06,65.24 461.68,65.33 463.31,65.41 464.94,65.50 466.57,65.59 468.19,65.67 469.82,65.75 471.45,65.84 473.08,65.92 474.70,66.00 476.33,66.08 477.96,66.16 479.59,66.24 481.21,66.32 482.84,66.40 484.47,66.48 486.10,66.56 487.72,66.63 489.35,66.71 490.98,66.78 492.61,66.86 494.23,66.93 495.86,67.01 497.49,67.08 499.12,67.15 500.74,67.22 502.37,67.29 504.00,67.37 505.63,67.44 507.25,67.50 508.88,67.57 510.51,67.64 512.14,67.71 513.76,67.78 515.39,67.84 517.02,67.91 518.65,67.98 520.27,68.04 521.90,68.11 523.53,68.17 525.16,68.23 526.78,68.30 528.41,68.36 530.04,68.42 531.67,68.48 533.29,68.54 534.92,68.60 536.55,68.66 538.18,68.72 539.80,68.78 541.43,68.84 543.06,68.90 544.69,68.96 546.31,69.01 547.94,69.07 549.57,69.13 551.20,69.18 552.82,69.24 554.45,69.29 556.08,69.35 557.71,69.40 559.33,69.45 560.96,69.51 562.59,69.56 564.22,69.61 565.84,69.66 567.47,69.71 569.10,69.77 570.73,69.82 572.35,69.87 573.98,69.92 575.61,69.96 577.24,70.01 578.86,70.06 580.49,70.11 582.12,70.16 583.75,70.20 585.37,70.25 587.00,70.30 588.63,70.34 590.26,70.39 591.88,70.43 593.51,70.48 595.14,70.52 596.77,70.57 598.39,70.62 600.02,70.66 601.65,70.71 603.28,70.75 604.90,70.80 606.53,70.84 608.16,70.89 609.79,70.94 611.41,70.98 613.04,71.03 614.67,71.07 616.30,71.12 617.92,71.16 619.55,71.21 621.18,71.25 622.81,71.30 624.43,71.34 626.06,71.38 627.69,71.43 629.32,71.47 630.94,71.52 632.57,71.56 634.20,71.60 635.83,71.65 637.45,71.69 639.08,71.73 640.71,71.77 642.34,71.82 643.96,71.86 645.59,71.90 647.22,71.94 648.85,71.98 650.47,72.03 652.10,72.07 653.73,72.11 655.36,72.15 656.98,72.19 658.61,72.23 660.24,72.27 661.87,72.31 663.49,72.35 665.12,72.39 666.75,72.43 668.38,72.47 670.00,72.51 671.63,72.55 673.26,72.59 674.89,72.63 676.51,72.67 678.14,72.71 679.77,72.75 681.40,72.78 683.02,72.82 684.65,72.86 686.28,72.90 687.91,72.94 689.53,72.97 691.16,73.01 692.79,73.05 694.42,73.09 696.04,73.12 697.67,73.16 699.30,73.20" fill="none" stroke="#008000" stroke-width="3.29" stroke-linejoin="round" stroke-linecap="butt"/></g>
<line x1="211.8" y1="108.82" x2="213.40" y2="108.82" stroke="#000" stroke-width="1.0"/>
<line x1="211.8" y1="105.81" x2="213.40" y2="105.81" stroke="#000" stroke-width="1.0"/>
<line x1="211.8" y1="102.80" x2="214.40" y2="102.80" stroke="#000" stroke-width="1.0"/>
<line x1="211.8" y1="99.79" x2="213.40" y2="99.79" stroke="#000" stroke-width="1.0"/>
<line x1="211.8" y1="96.78" x2="213.40" y2="96.78" stroke="#000" stroke-width="1.0"/>
<line x1="211.8" y1="93.77" x2="213.40" y2="93.77" stroke="#000" stroke-width="1.0"/>
<line x1="211.8" y1="90.76" x2="213.40" y2="90.76" stroke="#000" stroke-width="1.0"/>
<line x1="211.8" y1="87.75" x2="214.40" y2="87.75" stroke="#000" stroke-width="1.0"/>
<line x1="211.8" y1="84.74" x2="213.40" y2="84.74" stroke="#000" stroke-width="1.0"/>
<line x1="211.8" y1="81.73" x2="213.40" y2="81.73" stroke="#000" stroke-width="1.0"/>
<line x1="211.8" y1="78.72" x2="213.40" y2="78.72" stroke="#000" stroke-width="1.0"/>
<line x1="211.8" y1="75.71" x2="213.40" y2="75.71" stroke="#000" stroke-width="1.0"/>
<line x1="211.8" y1="72.70" x2="214.40" y2="72.70" stroke="#000" stroke-width="1.0"/>
<line x1="211.8" y1="69.69" x2="213.40" y2="69.69" stroke="#000" stroke-width="1.0"/>
<line x1="211.8" y1="66.68" x2="213.40" y2="66.68" stroke="#000" stroke-width="1.0"/>
<line x1="211.8" y1="63.67" x2="213.40" y2="63.67" stroke="#000" stroke-width="1.0"/>
<line x1="211.8" y1="60.66" x2="213.40" y2="60.66" stroke="#000" stroke-width="1.0"/>
<line x1="211.8" y1="57.65" x2="214.40" y2="57.65" stroke="#000" stroke-width="1.0"/>
<line x1="211.8" y1="54.64" x2="213.40" y2="54.64" stroke="#000" stroke-width="1.0"/>
<line x1="211.8" y1="51.63" x2="213.40" y2="51.63" stroke="#000" stroke-width="1.0"/>
<line x1="211.8" y1="48.62" x2="213.40" y2="48.62" stroke="#000" stroke-width="1.0"/>
<line x1="211.8" y1="45.61" x2="213.40" y2="45.61" stroke="#000" stroke-width="1.0"/>
<line x1="211.8" y1="42.60" x2="214.40" y2="42.60" stroke="#000" stroke-width="1.0"/>
<line x1="211.8" y1="39.59" x2="213.40" y2="39.59" stroke="#000" stroke-width="1.0"/>
<line x1="211.8" y1="36.58" x2="213.40" y2="36.58" stroke="#000" stroke-width="1.0"/>
<line x1="211.8" y1="33.57" x2="213.40" y2="33.57" stroke="#000" stroke-width="1.0"/>
<line x1="211.8" y1="30.56" x2="213.40" y2="30.56" stroke="#000" stroke-width="1.0"/>
<line x1="211.8" y1="27.55" x2="214.40" y2="27.55" stroke="#000" stroke-width="1.0"/>
<line x1="211.8" y1="24.54" x2="213.40" y2="24.54" stroke="#000" stroke-width="1.0"/>
<line x1="211.8" y1="21.53" x2="213.40" y2="21.53" stroke="#000" stroke-width="1.0"/>
<line x1="211.8" y1="18.52" x2="213.40" y2="18.52" stroke="#000" stroke-width="1.0"/>
<line x1="211.8" y1="15.51" x2="213.40" y2="15.51" stroke="#000" stroke-width="1.0"/>
<line x1="211.8" y1="12.50" x2="214.40" y2="12.50" stroke="#000" stroke-width="1.0"/>
<line x1="211.70" y1="109.2" x2="211.70" y2="106.60" stroke="#000" stroke-width="1.0"/>
<line x1="214.95" y1="109.2" x2="214.95" y2="107.60" stroke="#000" stroke-width="1.0"/>
<line x1="218.21" y1="109.2" x2="218.21" y2="107.60" stroke="#000" stroke-width="1.0"/>
<line x1="221.46" y1="109.2" x2="221.46" y2="107.60" stroke="#000" stroke-width="1.0"/>
<line x1="224.72" y1="109.2" x2="224.72" y2="107.60" stroke="#000" stroke-width="1.0"/>
<line x1="227.97" y1="109.2" x2="227.97" y2="106.60" stroke="#000" stroke-width="1.0"/>
<line x1="231.23" y1="109.2" x2="231.23" y2="107.60" stroke="#000" stroke-width="1.0"/>
<line x1="234.48" y1="109.2" x2="234.48" y2="107.60" stroke="#000" stroke-width="1.0"/>
<line x1="237.74" y1="109.2" x2="237.74" y2="107.60" stroke="#000" stroke-width="1.0"/>
<line x1="240.99" y1="109.2" x2="240.99" y2="107.60" stroke="#000" stroke-width="1.0"/>
<line x1="244.25" y1="109.2" x2="244.25" y2="106.60" stroke="#000" stroke-width="1.0"/>
<line x1="247.50" y1="109.2" x2="247.50" y2="107.60" stroke="#000" stroke-width="1.0"/>
<line x1="250.76" y1="109.2" x2="250.76" y2="107.60" stroke="#000" stroke-width="1.0"/>
<line x1="254.01" y1="109.2" x2="254.01" y2="107.60" stroke="#000" stroke-width="1.0"/>
<line x1="257.27" y1="109.2" x2="257.27" y2="107.60" stroke="#000" stroke-width="1.0"/>
<line x1="260.52" y1="109.2" x2="260.52" y2="106.60" stroke="#000" stroke-width="1.0"/>
<line x1="263.78" y1="109.2" x2="263.78" y2="107.60" stroke="#000" stroke-width="1.0"/>
<line x1="267.03" y1="109.2" x2="267.03" y2="107.60" stroke="#000" stroke-width="1.0"/>
<line x1="270.29" y1="109.2" x2="270.29" y2="107.60" stroke="#000" stroke-width="1.0"/>
<line x1="273.54" y1="109.2" x2="273.54" y2="107.60" stroke="#000" stroke-width="1.0"/>
<line x1="276.80" y1="109.2" x2="276.80" y2="106.60" stroke="#000" stroke-width="1.0"/>
<line x1="280.06" y1="109.2" x2="280.06" y2="107.60" stroke="#000" stroke-width="1.0"/>
<line x1="283.31" y1="109.2" x2="283.31" y2="107.60" stroke="#000" stroke-width="1.0"/>
<line x1="286.56" y1="109.2" x2="286.56" y2="107.60" stroke="#000" stroke-width="1.0"/>
<line x1="289.82" y1="109.2" x2="289.82" y2="107.60" stroke="#000" stroke-width="1.0"/>
<line x1="293.07" y1="109.2" x2="293.07" y2="106.60" stroke="#000" stroke-width="1.0"/>
<line x1="296.33" y1="109.2" x2="296.33" y2="107.60" stroke="#000" stroke-width="1.0"/>
<line x1="299.58" y1="109.2" x2="299.58" y2="107.60" stroke="#000" stroke-width="1.0"/>
<line x1="302.84" y1="109.2" x2="302.84" y2="107.60" stroke="#000" stroke-width="1.0"/>
<line x1="306.09" y1="109.2" x2="306.09" y2="107.60" stroke="#000" stroke-width="1.0"/>
<line x1="309.35" y1="109.2" x2="309.35" y2="106.60" stroke="#000" stroke-width="1.0"/>
<line x1="312.61" y1="109.2" x2="312.61" y2="107.60" stroke="#000" stroke-width="1.0"/>
<line x1="315.86" y1="109.2" x2="315.86" y2="107.60" stroke="#000" stroke-width="1.0"/>
<line x1="319.12" y1="109.2" x2="319.12" y2="107.60" stroke="#000" stroke-width="1.0"/>
<line x1="322.37" y1="109.2" x2="322.37" y2="107.60" stroke="#000" stroke-width="1.0"/>
<line x1="325.62" y1="109.2" x2="325.62" y2="106.60" stroke="#000" stroke-width="1.0"/>
<line x1="328.88" y1="109.2" x2="328.88" y2="107.60" stroke="#000" stroke-width="1.0"/>
<line x1="332.13" y1="109.2" x2="332.13" y2="107.60" stroke="#000" stroke-width="1.0"/>
<line x1="335.39" y1="109.2" x2="335.39" y2="107.60" stroke="#000" stroke-width="1.0"/>
<line x1="338.64" y1="109.2" x2="338.64" y2="107.60" stroke="#000" stroke-width="1.0"/>
<line x1="341.90" y1="109.2" x2="341.90" y2="106.60" stroke="#000" stroke-width="1.0"/>
<rect x="211.8" y="12.5" width="129.89999999999998" height="96.7" fill="none" stroke="#000" stroke-width="1.3"/>
<text x="209.9" y="105.60" text-anchor="end" class="itk">0.0</text>
<text x="209.9" y="90.55" text-anchor="end" class="itk">0.5</text>
<text x="209.9" y="75.50" text-anchor="end" class="itk">1.0</text>
<text x="209.9" y="60.45" text-anchor="end" class="itk">1.5</text>
<text x="209.9" y="45.40" text-anchor="end" class="itk">2.0</text>
<text x="209.9" y="30.35" text-anchor="end" class="itk">2.5</text>
<text x="209.9" y="15.30" text-anchor="end" class="itk">3.0</text>
<text x="211.90" y="117.5" text-anchor="middle" class="itk">0</text>
<text x="228.17" y="117.5" text-anchor="middle" class="itk">10</text>
<text x="244.45" y="117.5" text-anchor="middle" class="itk">20</text>
<text x="260.72" y="117.5" text-anchor="middle" class="itk">30</text>
<text x="277.00" y="117.5" text-anchor="middle" class="itk">40</text>
<text x="293.27" y="117.5" text-anchor="middle" class="itk">50</text>
<text x="309.55" y="117.5" text-anchor="middle" class="itk">60</text>
<text x="325.82" y="117.5" text-anchor="middle" class="itk">70</text>
<text x="342.10" y="117.5" text-anchor="middle" class="itk">80</text>
<text x="264.2" y="126.6" class="iaxl"><tspan font-style="italic">T</tspan> (K)</text>
<text transform="translate(194.8,74.2) rotate(-90)" class="iaxl"><tspan font-style="italic">ρ</tspan>/<tspan font-style="italic">ρ</tspan><tspan class="iaxs" dy="2.4">300</tspan></text>
</svg></body></html>
